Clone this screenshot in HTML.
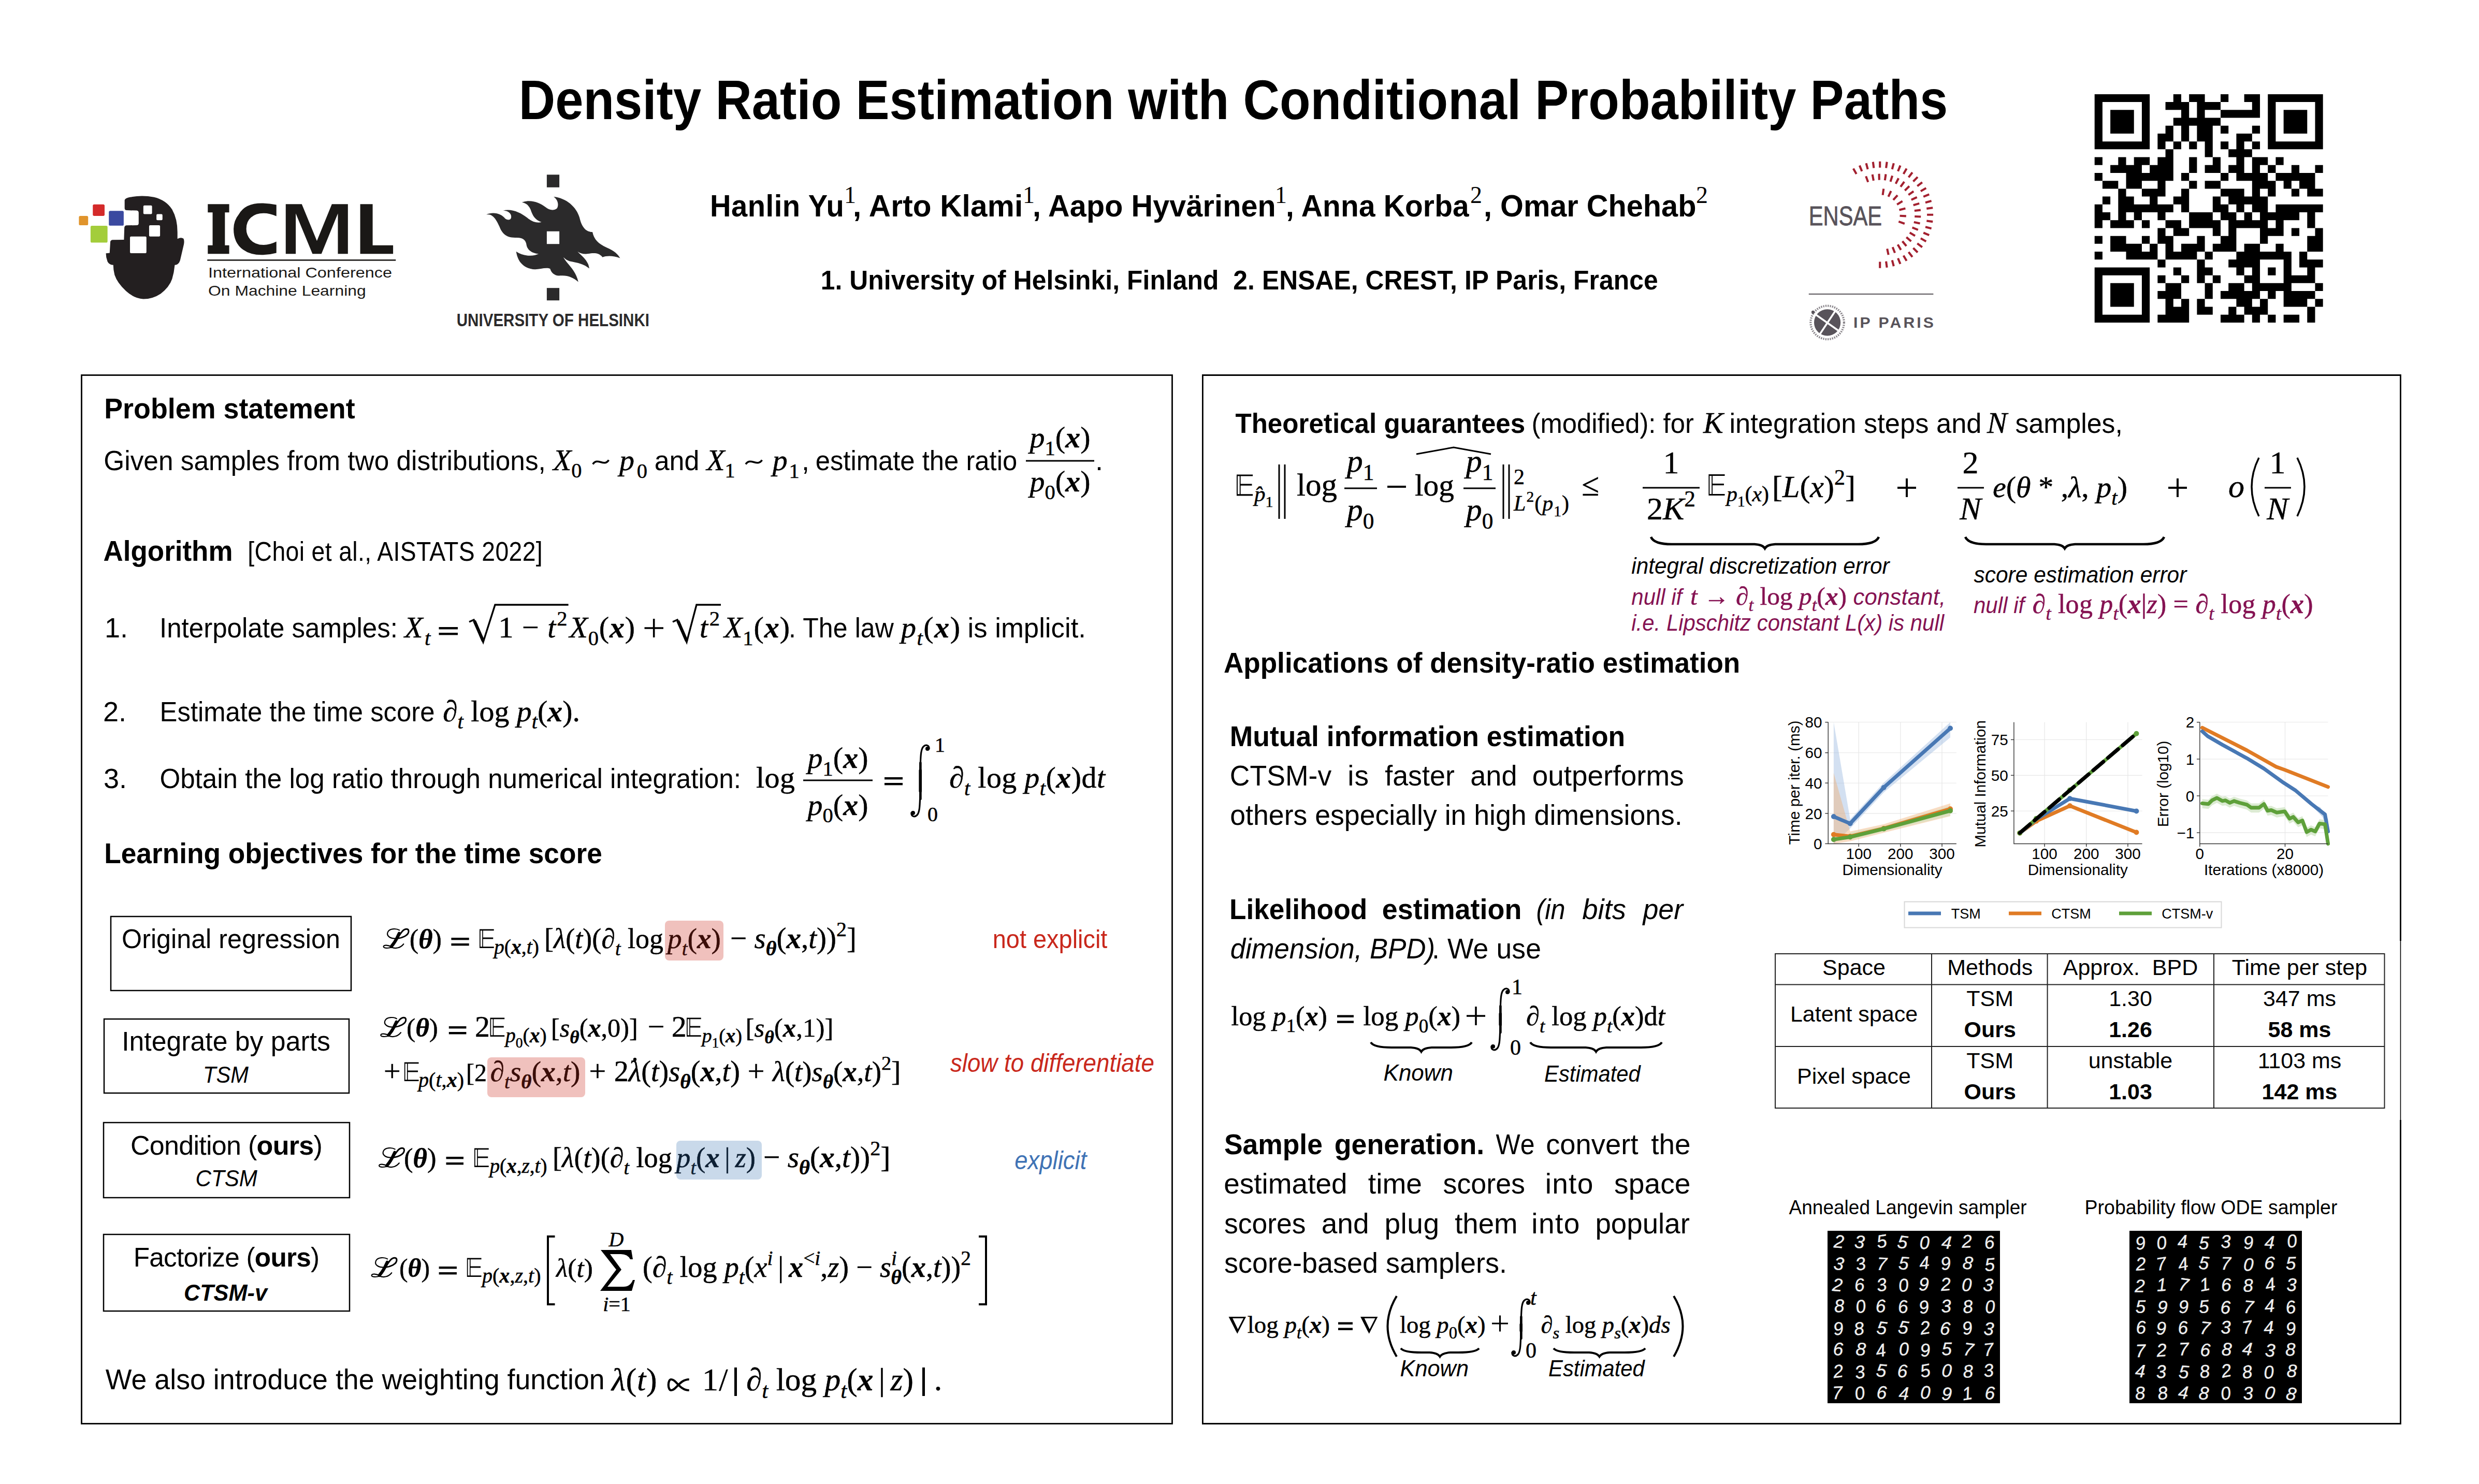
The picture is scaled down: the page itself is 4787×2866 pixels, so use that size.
<!DOCTYPE html>
<html><head><meta charset="utf-8"><style>
html,body{margin:0;padding:0;background:#fff;}
svg{display:block;}
</style></head><body>
<svg width="4787" height="2866" viewBox="0 0 4787 2866">
<rect width="4787" height="2866" fill="#fff"/>
<text x="0" y="0" transform="translate(1001.8,230.0) scale(0.9109,1)" font-family="Liberation Sans" font-style="normal" font-weight="bold" font-size="107.12" fill="#000" textLength="3029.4" lengthAdjust="spacing" >Density Ratio Estimation with Conditional Probability Paths</text>
<text x="0" y="0" transform="translate(1371.0,418.0) scale(0.9470,1)" font-family="Liberation Sans" font-style="normal" font-weight="bold" font-size="59.28" fill="#000" textLength="273.4" lengthAdjust="spacing" >Hanlin Yu</text>
<text x="1630" y="392" font-family="Liberation Serif" font-size="46">1</text>
<text x="0" y="0" transform="translate(1647.0,418.0) scale(0.9866,1)" font-family="Liberation Sans" font-style="normal" font-weight="bold" font-size="59.28" fill="#000" textLength="332.7" lengthAdjust="spacing" >, Arto Klami</text>
<text x="1975" y="392" font-family="Liberation Serif" font-size="46">1</text>
<text x="0" y="0" transform="translate(1994.0,418.0) scale(0.9699,1)" font-family="Liberation Sans" font-style="normal" font-weight="bold" font-size="59.28" fill="#000" textLength="484.3" lengthAdjust="spacing" >, Aapo Hyvärinen</text>
<text x="2462" y="392" font-family="Liberation Serif" font-size="46">1</text>
<text x="0" y="0" transform="translate(2483.0,418.0) scale(0.9587,1)" font-family="Liberation Sans" font-style="normal" font-weight="bold" font-size="59.28" fill="#000" textLength="368.9" lengthAdjust="spacing" >, Anna Korba</text>
<text x="2839" y="392" font-family="Liberation Serif" font-size="46">2</text>
<text x="0" y="0" transform="translate(2865.0,418.0) scale(0.9735,1)" font-family="Liberation Sans" font-style="normal" font-weight="bold" font-size="59.28" fill="#000" textLength="421.6" lengthAdjust="spacing" >, Omar Chehab</text>
<text x="3275" y="392" font-family="Liberation Serif" font-size="46">2</text>
<text x="0" y="0" transform="translate(1584.7,559.0) scale(0.9565,1)" font-family="Liberation Sans" font-style="normal" font-weight="bold" font-size="52.00" fill="#000" textLength="1690.5" lengthAdjust="spacing" >1. University of Helsinki, Finland&#160;&#160;2. ENSAE, CREST, IP Paris, France</text>
<rect x="157.5" y="724.5" width="2106" height="2025" fill="none" stroke="#000" stroke-width="2.8"/>
<path d="M4635.5,1817 L4635.5,724.5 L2322.4,724.5 L2322.4,2749.5 L4635.5,2749.5 L4635.5,2163" fill="none" stroke="#000" stroke-width="2.8"/><path d="M4635.5,1815 L4635.5,2165" stroke="#000" stroke-width="1.6"/>
<text x="0" y="0" transform="translate(201.2,807.5) scale(0.9582,1)" font-family="Liberation Sans" font-style="normal" font-weight="bold" font-size="56.16" fill="#000" textLength="505.6" lengthAdjust="spacing" >Problem statement</text>
<text x="0" y="0" transform="translate(200.3,908.0) scale(0.9498,1)" font-family="Liberation Sans" font-style="normal" font-weight="normal" font-size="54.08" fill="#000" textLength="898.7" lengthAdjust="spacing" >Given samples from two distributions,</text>
<text x="1068.0" y="908.0" fill="#000" stroke="#000" stroke-width="0.5" textLength="55.6" lengthAdjust="spacing" ><tspan font-family="Liberation Serif" font-style="italic" font-weight="normal" font-size="57.87">X</tspan><tspan font-family="Liberation Serif" font-style="normal" font-weight="normal" font-size="40.51" dy="14.47">0</tspan></text>
<path d="M1144.8,896.5 C1154.01,882.5 1166.29,902.5 1175.5,888.5" fill="none" stroke="#000" stroke-width="3.6"/>
<text x="1196.0" y="908.0" fill="#000" stroke="#000" stroke-width="0.5" textLength="54.0" lengthAdjust="spacing" ><tspan font-family="Liberation Serif" font-style="italic" font-weight="normal" font-size="58.00">p</tspan><tspan font-family="Liberation Serif" font-style="normal" font-weight="normal" font-size="40.60" dy="14.50">0</tspan></text>
<text x="0" y="0" transform="translate(1263.7,908.0) scale(0.9618,1)" font-family="Liberation Sans" font-style="normal" font-weight="normal" font-size="54.08" fill="#000" textLength="90.2" lengthAdjust="spacing" >and</text>
<text x="1364.4" y="908.0" fill="#000" stroke="#000" stroke-width="0.5" textLength="55.1" lengthAdjust="spacing" ><tspan font-family="Liberation Serif" font-style="italic" font-weight="normal" font-size="57.35">X</tspan><tspan font-family="Liberation Serif" font-style="normal" font-weight="normal" font-size="40.14" dy="14.34">1</tspan></text>
<path d="M1440,896.5 C1449.45,882.5 1462.05,902.5 1471.5,888.5" fill="none" stroke="#000" stroke-width="3.6"/>
<text x="1491.8" y="908.0" fill="#000" stroke="#000" stroke-width="0.5" textLength="52.0" lengthAdjust="spacing" ><tspan font-family="Liberation Serif" font-style="italic" font-weight="normal" font-size="58.00">p</tspan><tspan font-family="Liberation Serif" font-style="normal" font-weight="normal" font-size="40.60" dy="14.50">1</tspan></text>
<text x="1548.0" y="908.0" font-family="Liberation Sans" font-style="normal" font-weight="normal" font-size="54.08" fill="#000" >,</text>
<text x="0" y="0" transform="translate(1574.7,908.0) scale(0.9391,1)" font-family="Liberation Sans" font-style="normal" font-weight="normal" font-size="54.08" fill="#000" textLength="414.8" lengthAdjust="spacing" >estimate the ratio</text>
<text x="2047.0" y="864.0" fill="#000" stroke="#000" stroke-width="0.5" text-anchor="middle" ><tspan font-family="Liberation Serif" font-style="italic" font-weight="normal" font-size="58.00">p</tspan><tspan font-family="Liberation Serif" font-style="normal" font-weight="normal" font-size="40.60" dy="14.50">1</tspan><tspan font-family="Liberation Serif" font-style="normal" font-weight="normal" font-size="58.00" dy="-14.50">(</tspan><tspan font-family="Liberation Serif" font-style="italic" font-weight="bold" font-size="58.00">x</tspan><tspan font-family="Liberation Serif" font-style="normal" font-weight="normal" font-size="58.00">)</tspan></text>
<rect x="1981" y="888.5" width="132" height="3"/>
<text x="2047.0" y="949.0" fill="#000" stroke="#000" stroke-width="0.5" text-anchor="middle" ><tspan font-family="Liberation Serif" font-style="italic" font-weight="normal" font-size="58.00">p</tspan><tspan font-family="Liberation Serif" font-style="normal" font-weight="normal" font-size="40.60" dy="14.50">0</tspan><tspan font-family="Liberation Serif" font-style="normal" font-weight="normal" font-size="58.00" dy="-14.50">(</tspan><tspan font-family="Liberation Serif" font-style="italic" font-weight="bold" font-size="58.00">x</tspan><tspan font-family="Liberation Serif" font-style="normal" font-weight="normal" font-size="58.00">)</tspan></text>
<text x="2115.0" y="908.0" font-family="Liberation Sans" font-style="normal" font-weight="normal" font-size="54.08" fill="#000" >.</text>
<text x="0" y="0" transform="translate(199.6,1083.0) scale(0.9423,1)" font-family="Liberation Sans" font-style="normal" font-weight="bold" font-size="56.16" fill="#000" textLength="265.2" lengthAdjust="spacing" >Algorithm</text>
<text x="0" y="0" transform="translate(478.3,1083.0) scale(0.8914,1)" font-family="Liberation Sans" font-style="normal" font-weight="normal" font-size="52.00" fill="#000" textLength="638.8" lengthAdjust="spacing" >[Choi et al., AISTATS 2022]</text>
<text x="202.0" y="1231.0" font-family="Liberation Sans" font-style="normal" font-weight="normal" font-size="54.08" fill="#000" >1.</text>
<text x="0" y="0" transform="translate(308.0,1231.0) scale(0.9444,1)" font-family="Liberation Sans" font-style="normal" font-weight="normal" font-size="54.08" fill="#000" textLength="487.0" lengthAdjust="spacing" >Interpolate samples:</text>
<text x="781.0" y="1231.0" fill="#000" stroke="#000" stroke-width="0.5" textLength="50.4" lengthAdjust="spacing" ><tspan font-family="Liberation Serif" font-style="italic" font-weight="normal" font-size="58.00">X</tspan><tspan font-family="Liberation Serif" font-style="italic" font-weight="normal" font-size="40.60" dy="14.50">t</tspan></text>
<rect x="847.5" y="1211" width="36.5" height="4.4" fill="#000"/><rect x="847.5" y="1222" width="36.5" height="4.4" fill="#000"/>
<path d="M906,1201 L915,1197 L933,1240 L956,1168 L1097.6,1168" fill="none" stroke="#000" stroke-width="3.4" stroke-linejoin="miter"/><path d="M916,1199 L933,1238" stroke="#000" stroke-width="6"/>
<text x="962.5" y="1231.0" fill="#000" stroke="#000" stroke-width="0.5" textLength="133.1" lengthAdjust="spacing" ><tspan font-family="Liberation Serif" font-style="normal" font-weight="normal" font-size="58.00">1</tspan><tspan font-family="Liberation Serif" font-style="normal" font-weight="normal" font-size="58.00" dx="14.50">−</tspan><tspan font-family="Liberation Serif" font-style="italic" font-weight="normal" font-size="58.00" dx="14.50">t</tspan><tspan font-family="Liberation Serif" font-style="normal" font-weight="normal" font-size="40.60" dy="-23.20">2</tspan></text>
<text x="1099.6" y="1231.0" fill="#000" stroke="#000" stroke-width="0.5" textLength="126.4" lengthAdjust="spacing" ><tspan font-family="Liberation Serif" font-style="italic" font-weight="normal" font-size="58.00">X</tspan><tspan font-family="Liberation Serif" font-style="normal" font-weight="normal" font-size="40.60" dy="14.50">0</tspan><tspan font-family="Liberation Serif" font-style="normal" font-weight="normal" font-size="58.00" dy="-14.50">(</tspan><tspan font-family="Liberation Serif" font-style="italic" font-weight="bold" font-size="58.00">x</tspan><tspan font-family="Liberation Serif" font-style="normal" font-weight="normal" font-size="58.00">)</tspan></text>
<path d="M1244.5,1213 L1281,1213 M1262.7,1195 L1262.7,1231" stroke="#000" stroke-width="3.6"/>
<path d="M1299,1201 L1308,1197 L1326,1240 L1345,1168 L1392,1168" fill="none" stroke="#000" stroke-width="3.4"/><path d="M1309,1199 L1326,1238" stroke="#000" stroke-width="6"/>
<text x="1351.0" y="1231.0" fill="#000" stroke="#000" stroke-width="0.5" textLength="39.0" lengthAdjust="spacing" ><tspan font-family="Liberation Serif" font-style="italic" font-weight="normal" font-size="58.00">t</tspan><tspan font-family="Liberation Serif" font-style="normal" font-weight="normal" font-size="40.60" dy="-23.20">2</tspan></text>
<text x="1398.0" y="1231.0" fill="#000" stroke="#000" stroke-width="0.5" textLength="127.0" lengthAdjust="spacing" ><tspan font-family="Liberation Serif" font-style="italic" font-weight="normal" font-size="58.00">X</tspan><tspan font-family="Liberation Serif" font-style="normal" font-weight="normal" font-size="40.60" dy="14.50">1</tspan><tspan font-family="Liberation Serif" font-style="normal" font-weight="normal" font-size="58.00" dy="-14.50">(</tspan><tspan font-family="Liberation Serif" font-style="italic" font-weight="bold" font-size="58.00">x</tspan><tspan font-family="Liberation Serif" font-style="normal" font-weight="normal" font-size="58.00">)</tspan></text>
<text x="0" y="0" transform="translate(1523.1,1231.0) scale(0.9243,1)" font-family="Liberation Sans" font-style="normal" font-weight="normal" font-size="54.08" fill="#000" textLength="219.4" lengthAdjust="spacing" >. The law</text>
<text x="1740.0" y="1231.0" fill="#000" stroke="#000" stroke-width="0.5" textLength="114.0" lengthAdjust="spacing" ><tspan font-family="Liberation Serif" font-style="italic" font-weight="normal" font-size="58.00">p</tspan><tspan font-family="Liberation Serif" font-style="italic" font-weight="normal" font-size="40.60" dy="14.50">t</tspan><tspan font-family="Liberation Serif" font-style="normal" font-weight="normal" font-size="58.00" dy="-14.50">(</tspan><tspan font-family="Liberation Serif" font-style="italic" font-weight="bold" font-size="58.00">x</tspan><tspan font-family="Liberation Serif" font-style="normal" font-weight="normal" font-size="58.00">)</tspan></text>
<text x="0" y="0" transform="translate(1868.4,1231.0) scale(0.9753,1)" font-family="Liberation Sans" font-style="normal" font-weight="normal" font-size="54.08" fill="#000" textLength="234.4" lengthAdjust="spacing" >is implicit.</text>
<text x="199.0" y="1393.0" font-family="Liberation Sans" font-style="normal" font-weight="normal" font-size="54.08" fill="#000" >2.</text>
<text x="0" y="0" transform="translate(308.6,1393.0) scale(0.9395,1)" font-family="Liberation Sans" font-style="normal" font-weight="normal" font-size="54.08" fill="#000" textLength="565.0" lengthAdjust="spacing" >Estimate the time score</text>
<text x="855.0" y="1393.0" fill="#000" stroke="#000" stroke-width="0.5" textLength="265.0" lengthAdjust="spacing" ><tspan font-family="Liberation Serif" font-style="italic" font-weight="normal" font-size="57.90">∂</tspan><tspan font-family="Liberation Serif" font-style="italic" font-weight="normal" font-size="40.53" dy="14.47">t</tspan><tspan font-family="Liberation Serif" font-style="normal" font-weight="normal" font-size="57.90" dy="-14.47" dx="14.47">log</tspan><tspan font-family="Liberation Serif" font-style="italic" font-weight="normal" font-size="57.90" dx="14.47">p</tspan><tspan font-family="Liberation Serif" font-style="italic" font-weight="normal" font-size="40.53" dy="14.47">t</tspan><tspan font-family="Liberation Serif" font-style="normal" font-weight="normal" font-size="57.90" dy="-14.47">(</tspan><tspan font-family="Liberation Serif" font-style="italic" font-weight="bold" font-size="57.90">x</tspan><tspan font-family="Liberation Serif" font-style="normal" font-weight="normal" font-size="57.90">)</tspan><tspan font-family="Liberation Serif" font-style="normal" font-weight="normal" font-size="57.90">.</tspan></text>
<text x="200.0" y="1522.0" font-family="Liberation Sans" font-style="normal" font-weight="normal" font-size="54.08" fill="#000" >3.</text>
<text x="0" y="0" transform="translate(308.4,1522.0) scale(0.9453,1)" font-family="Liberation Sans" font-style="normal" font-weight="normal" font-size="54.08" fill="#000" textLength="1187.5" lengthAdjust="spacing" >Obtain the log ratio through numerical integration:</text>
<text x="1460.0" y="1521.0" fill="#000" stroke="#000" stroke-width="0.5" textLength="75.0" lengthAdjust="spacing" ><tspan font-family="Liberation Serif" font-style="normal" font-weight="normal" font-size="58.00">log</tspan></text>
<text x="1618.0" y="1483.0" fill="#000" stroke="#000" stroke-width="0.5" text-anchor="middle" ><tspan font-family="Liberation Serif" font-style="italic" font-weight="normal" font-size="58.00">p</tspan><tspan font-family="Liberation Serif" font-style="normal" font-weight="normal" font-size="40.60" dy="14.50">1</tspan><tspan font-family="Liberation Serif" font-style="normal" font-weight="normal" font-size="58.00" dy="-14.50">(</tspan><tspan font-family="Liberation Serif" font-style="italic" font-weight="bold" font-size="58.00">x</tspan><tspan font-family="Liberation Serif" font-style="normal" font-weight="normal" font-size="58.00">)</tspan></text>
<rect x="1551" y="1505.5" width="134" height="3"/>
<text x="1618.0" y="1573.5" fill="#000" stroke="#000" stroke-width="0.5" text-anchor="middle" ><tspan font-family="Liberation Serif" font-style="italic" font-weight="normal" font-size="58.00">p</tspan><tspan font-family="Liberation Serif" font-style="normal" font-weight="normal" font-size="40.60" dy="14.50">0</tspan><tspan font-family="Liberation Serif" font-style="normal" font-weight="normal" font-size="58.00" dy="-14.50">(</tspan><tspan font-family="Liberation Serif" font-style="italic" font-weight="bold" font-size="58.00">x</tspan><tspan font-family="Liberation Serif" font-style="normal" font-weight="normal" font-size="58.00">)</tspan></text>
<rect x="1708" y="1501" width="35" height="4.4" fill="#000"/><rect x="1708" y="1512" width="35" height="4.4" fill="#000"/>
<g><path d="M1794,1447 C1795,1439 1788,1437 1783,1442 C1777,1448 1778,1468 1777,1483 L1777,1533 C1776,1548 1777,1568 1771,1574 C1766,1579 1759,1577 1760,1569" fill="none" stroke="#000" stroke-width="3.2"/><path d="M1777.4,1473 L1777.4,1543" stroke="#000" stroke-width="4.6" stroke-linecap="round"/><path d="M1777.2,1488 L1777.2,1528" stroke="#000" stroke-width="5.6" stroke-linecap="round"/><circle cx="1791" cy="1446" r="4"/><circle cx="1763" cy="1570" r="4"/></g>
<text x="1805.0" y="1452.0" fill="#000" stroke="#000" stroke-width="0.5" ><tspan font-family="Liberation Serif" font-style="normal" font-weight="normal" font-size="40.00">1</tspan></text>
<text x="1791.0" y="1586.0" fill="#000" stroke="#000" stroke-width="0.5" ><tspan font-family="Liberation Serif" font-style="normal" font-weight="normal" font-size="40.00">0</tspan></text>
<text x="1833.0" y="1521.0" fill="#000" stroke="#000" stroke-width="0.5" textLength="301.0" lengthAdjust="spacing" ><tspan font-family="Liberation Serif" font-style="italic" font-weight="normal" font-size="58.00">∂</tspan><tspan font-family="Liberation Serif" font-style="italic" font-weight="normal" font-size="40.60" dy="14.50">t</tspan><tspan font-family="Liberation Serif" font-style="normal" font-weight="normal" font-size="58.00" dy="-14.50" dx="14.50">log</tspan><tspan font-family="Liberation Serif" font-style="italic" font-weight="normal" font-size="58.00" dx="14.50">p</tspan><tspan font-family="Liberation Serif" font-style="italic" font-weight="normal" font-size="40.60" dy="14.50">t</tspan><tspan font-family="Liberation Serif" font-style="normal" font-weight="normal" font-size="58.00" dy="-14.50">(</tspan><tspan font-family="Liberation Serif" font-style="italic" font-weight="bold" font-size="58.00">x</tspan><tspan font-family="Liberation Serif" font-style="normal" font-weight="normal" font-size="58.00">)</tspan><tspan font-family="Liberation Serif" font-style="normal" font-weight="normal" font-size="58.00">d</tspan><tspan font-family="Liberation Serif" font-style="italic" font-weight="normal" font-size="58.00">t</tspan></text>
<text x="0" y="0" transform="translate(201.2,1667.0) scale(0.9481,1)" font-family="Liberation Sans" font-style="normal" font-weight="bold" font-size="56.16" fill="#000" textLength="1014.3" lengthAdjust="spacing" >Learning objectives for the time score</text>
<rect x="214" y="1770" width="464" height="143" fill="none" stroke="#000" stroke-width="2.5"/>
<rect x="201" y="1968" width="473" height="143" fill="none" stroke="#000" stroke-width="2.5"/>
<rect x="200" y="2168" width="475" height="145" fill="none" stroke="#000" stroke-width="2.5"/>
<rect x="200" y="2384" width="475" height="148" fill="none" stroke="#000" stroke-width="2.5"/>
<text x="0" y="0" transform="translate(235.1,1831.0) scale(0.9666,1)" font-family="Liberation Sans" font-style="normal" font-weight="normal" font-size="52.00" fill="#000" textLength="436.4" lengthAdjust="spacing" >Original regression</text>
<text x="0" y="0" transform="translate(235.2,2029.0) scale(0.9951,1)" font-family="Liberation Sans" font-style="normal" font-weight="normal" font-size="52.00" fill="#000" textLength="404.7" lengthAdjust="spacing" >Integrate by parts</text>
<text x="0" y="0" transform="translate(392.1,2091.0) scale(0.9536,1)" font-family="Liberation Sans" font-style="italic" font-weight="normal" font-size="43.68" fill="#000" textLength="92.2" lengthAdjust="spacing" >TSM</text>
<text x="0" y="0" transform="translate(251.9,2230.0) scale(1.0000,1)" font-family="Liberation Sans" font-style="normal" font-weight="normal" font-size="52.00" fill="#000" textLength="370.9" lengthAdjust="spacing" >Condition (<tspan font-weight="bold">ours</tspan>)</text>
<text x="0" y="0" transform="translate(377.6,2291.0) scale(0.9650,1)" font-family="Liberation Sans" font-style="italic" font-weight="normal" font-size="43.68" fill="#000" textLength="123.7" lengthAdjust="spacing" >CTSM</text>
<text x="0" y="0" transform="translate(257.7,2446.0) scale(0.9874,1)" font-family="Liberation Sans" font-style="normal" font-weight="normal" font-size="52.00" fill="#000" textLength="364.1" lengthAdjust="spacing" >Factorize (<tspan font-weight="bold">ours</tspan>)</text>
<text x="0" y="0" transform="translate(354.9,2512.0) scale(0.9912,1)" font-family="Liberation Sans" font-style="italic" font-weight="bold" font-size="43.68" fill="#000" textLength="162.6" lengthAdjust="spacing" >CTSM-v</text>
<rect x="1284" y="1778" width="113" height="77" rx="8" fill="#f0c1bd"/>
<rect x="941" y="2042" width="189" height="77" rx="8" fill="#f0c1bd"/>
<rect x="1306" y="2203" width="165" height="75" rx="8" fill="#c9d9ea"/>
<g transform="translate(720.02,1778.37) scale(0.09747)" fill="none" stroke="#000" stroke-linecap="round"><path d="M525,185 C470,150 330,145 295,225 C265,300 340,360 485,350" stroke-width="22"/><path d="M485,350 C580,340 705,290 708,210 C712,150 640,150 595,195 C520,270 470,400 365,510" stroke-width="30"/><path d="M520,250 C490,310 470,390 365,510" stroke-width="62"/><path d="M365,510 C300,485 225,470 212,505 C200,545 300,548 370,525 C440,555 540,545 608,460" stroke-width="22"/></g>
<text x="790.8" y="1831.0" fill="#000" stroke="#000" stroke-width="0.5" textLength="62.2" lengthAdjust="spacing" ><tspan font-family="Liberation Serif" font-style="normal" font-weight="normal" font-size="52.49">(</tspan><tspan font-family="Liberation Serif" font-style="italic" font-weight="bold" font-size="52.49">θ</tspan><tspan font-family="Liberation Serif" font-style="normal" font-weight="normal" font-size="52.49">)</tspan></text>
<rect x="871.4" y="1811" width="34.30000000000007" height="4.4" fill="#000"/><rect x="871.4" y="1822" width="34.30000000000007" height="4.4" fill="#000"/>
<g transform="translate(718.68,1777.95) scale(0.09733)" fill="#000"><path d="M2130,170 L2415,170 L2415,198 L2200,198 L2200,335 L2400,335 L2400,365 L2200,365 L2200,517 L2415,517 L2415,545 L2130,545 Z M2148,198 L2148,517 L2183,517 L2183,198 Z" fill-rule="evenodd"/></g>
<text x="954.0" y="1842.0" fill="#000" stroke="#000" stroke-width="0.5" textLength="87.0" lengthAdjust="spacing" ><tspan font-family="Liberation Serif" font-style="italic" font-weight="normal" font-size="39.66">p</tspan><tspan font-family="Liberation Serif" font-style="normal" font-weight="normal" font-size="39.66">(</tspan><tspan font-family="Liberation Serif" font-style="italic" font-weight="bold" font-size="39.66">x</tspan><tspan font-family="Liberation Serif" font-style="normal" font-weight="normal" font-size="39.66">,</tspan><tspan font-family="Liberation Serif" font-style="italic" font-weight="normal" font-size="39.66">t</tspan><tspan font-family="Liberation Serif" font-style="normal" font-weight="normal" font-size="39.66">)</tspan></text>
<text x="1051.0" y="1831.0" fill="#000" stroke="#000" stroke-width="0.5" textLength="230.0" lengthAdjust="spacing" ><tspan font-family="Liberation Serif" font-style="normal" font-weight="normal" font-size="54.00">[</tspan><tspan font-family="Liberation Serif" font-style="italic" font-weight="normal" font-size="54.00">λ</tspan><tspan font-family="Liberation Serif" font-style="normal" font-weight="normal" font-size="54.00">(</tspan><tspan font-family="Liberation Serif" font-style="italic" font-weight="normal" font-size="54.00">t</tspan><tspan font-family="Liberation Serif" font-style="normal" font-weight="normal" font-size="54.00">)</tspan><tspan font-family="Liberation Serif" font-style="normal" font-weight="normal" font-size="54.00">(</tspan><tspan font-family="Liberation Serif" font-style="italic" font-weight="normal" font-size="54.00">∂</tspan><tspan font-family="Liberation Serif" font-style="italic" font-weight="normal" font-size="37.80" dy="13.50">t</tspan><tspan font-family="Liberation Serif" font-style="normal" font-weight="normal" font-size="54.00" dy="-13.50" dx="13.50">log</tspan></text>
<text x="1289.0" y="1831.0" fill="#3a0d08" stroke="#3a0d08" stroke-width="0.5" textLength="103.0" lengthAdjust="spacing" ><tspan font-family="Liberation Serif" font-style="italic" font-weight="normal" font-size="55.36">p</tspan><tspan font-family="Liberation Serif" font-style="italic" font-weight="normal" font-size="38.75" dy="13.84">t</tspan><tspan font-family="Liberation Serif" font-style="normal" font-weight="normal" font-size="55.36" dy="-13.84">(</tspan><tspan font-family="Liberation Serif" font-style="italic" font-weight="bold" font-size="55.36">x</tspan><tspan font-family="Liberation Serif" font-style="normal" font-weight="normal" font-size="55.36">)</tspan></text>
<text x="1410.0" y="1831.0" fill="#000" stroke="#000" stroke-width="0.5" textLength="244.0" lengthAdjust="spacing" ><tspan font-family="Liberation Serif" font-style="normal" font-weight="normal" font-size="57.06">−</tspan><tspan font-family="Liberation Serif" font-style="italic" font-weight="normal" font-size="57.06" dx="14.26">s</tspan><tspan font-family="Liberation Serif" font-style="italic" font-weight="bold" font-size="39.94" dy="14.26">θ</tspan><tspan font-family="Liberation Serif" font-style="normal" font-weight="normal" font-size="57.06" dy="-14.26">(</tspan><tspan font-family="Liberation Serif" font-style="italic" font-weight="bold" font-size="57.06">x</tspan><tspan font-family="Liberation Serif" font-style="normal" font-weight="normal" font-size="57.06">,</tspan><tspan font-family="Liberation Serif" font-style="italic" font-weight="normal" font-size="57.06">t</tspan><tspan font-family="Liberation Serif" font-style="normal" font-weight="normal" font-size="57.06">)</tspan><tspan font-family="Liberation Serif" font-style="normal" font-weight="normal" font-size="57.06">)</tspan><tspan font-family="Liberation Serif" font-style="normal" font-weight="normal" font-size="39.94" dy="-22.82">2</tspan><tspan font-family="Liberation Serif" font-style="normal" font-weight="normal" font-size="57.06" dy="22.82">]</tspan></text>
<text x="0" y="0" transform="translate(1916.7,1831.0) scale(0.9399,1)" font-family="Liberation Sans" font-style="normal" font-weight="normal" font-size="49.92" fill="#c9281c" textLength="235.9" lengthAdjust="spacing" >not explicit</text>
<g transform="translate(714.72,1949.37) scale(0.09747)" fill="none" stroke="#000" stroke-linecap="round"><path d="M525,185 C470,150 330,145 295,225 C265,300 340,360 485,350" stroke-width="22"/><path d="M485,350 C580,340 705,290 708,210 C712,150 640,150 595,195 C520,270 470,400 365,510" stroke-width="30"/><path d="M520,250 C490,310 470,390 365,510" stroke-width="62"/><path d="M365,510 C300,485 225,470 212,505 C200,545 300,548 370,525 C440,555 540,545 608,460" stroke-width="22"/></g>
<text x="785.0" y="2002.0" fill="#000" stroke="#000" stroke-width="0.5" textLength="61.0" lengthAdjust="spacing" ><tspan font-family="Liberation Serif" font-style="normal" font-weight="normal" font-size="51.47">(</tspan><tspan font-family="Liberation Serif" font-style="italic" font-weight="bold" font-size="51.47">θ</tspan><tspan font-family="Liberation Serif" font-style="normal" font-weight="normal" font-size="51.47">)</tspan></text>
<rect x="866.8" y="1982" width="33.60000000000002" height="4.4" fill="#000"/><rect x="866.8" y="1993" width="33.60000000000002" height="4.4" fill="#000"/>
<text x="917.0" y="2002.0" fill="#000" stroke="#000" stroke-width="0.5" ><tspan font-family="Liberation Serif" font-style="normal" font-weight="normal" font-size="58.00">2</tspan></text>
<g transform="translate(739.18,1948.95) scale(0.09733)" fill="#000"><path d="M2130,170 L2415,170 L2415,198 L2200,198 L2200,335 L2400,335 L2400,365 L2200,365 L2200,517 L2415,517 L2415,545 L2130,545 Z M2148,198 L2148,517 L2183,517 L2183,198 Z" fill-rule="evenodd"/></g>
<text x="976.0" y="2013.0" fill="#000" stroke="#000" stroke-width="0.5" textLength="79.6" lengthAdjust="spacing" ><tspan font-family="Liberation Serif" font-style="italic" font-weight="normal" font-size="39.48">p</tspan><tspan font-family="Liberation Serif" font-style="normal" font-weight="normal" font-size="27.64" dy="9.87">0</tspan><tspan font-family="Liberation Serif" font-style="normal" font-weight="normal" font-size="39.48" dy="-9.87">(</tspan><tspan font-family="Liberation Serif" font-style="italic" font-weight="bold" font-size="39.48">x</tspan><tspan font-family="Liberation Serif" font-style="normal" font-weight="normal" font-size="39.48">)</tspan></text>
<text x="1064.0" y="2002.0" fill="#000" stroke="#000" stroke-width="0.5" textLength="167.8" lengthAdjust="spacing" ><tspan font-family="Liberation Serif" font-style="normal" font-weight="normal" font-size="50.32">[</tspan><tspan font-family="Liberation Serif" font-style="italic" font-weight="normal" font-size="50.32">s</tspan><tspan font-family="Liberation Serif" font-style="italic" font-weight="bold" font-size="35.23" dy="12.58">θ</tspan><tspan font-family="Liberation Serif" font-style="normal" font-weight="normal" font-size="50.32" dy="-12.58">(</tspan><tspan font-family="Liberation Serif" font-style="italic" font-weight="bold" font-size="50.32">x</tspan><tspan font-family="Liberation Serif" font-style="normal" font-weight="normal" font-size="50.32">,</tspan><tspan font-family="Liberation Serif" font-style="normal" font-weight="normal" font-size="50.32">0</tspan><tspan font-family="Liberation Serif" font-style="normal" font-weight="normal" font-size="50.32">)</tspan><tspan font-family="Liberation Serif" font-style="normal" font-weight="normal" font-size="50.32">]</tspan></text>
<text x="1250.7" y="2002.0" fill="#000" stroke="#000" stroke-width="0.5" ><tspan font-family="Liberation Serif" font-style="normal" font-weight="normal" font-size="58.00">−</tspan></text>
<text x="1296.8" y="2002.0" fill="#000" stroke="#000" stroke-width="0.5" ><tspan font-family="Liberation Serif" font-style="normal" font-weight="normal" font-size="58.00">2</tspan></text>
<g transform="translate(1118.68,1948.95) scale(0.09733)" fill="#000"><path d="M2130,170 L2415,170 L2415,198 L2200,198 L2200,335 L2400,335 L2400,365 L2200,365 L2200,517 L2415,517 L2415,545 L2130,545 Z M2148,198 L2148,517 L2183,517 L2183,198 Z" fill-rule="evenodd"/></g>
<text x="1355.6" y="2013.0" fill="#000" stroke="#000" stroke-width="0.5" textLength="77.4" lengthAdjust="spacing" ><tspan font-family="Liberation Serif" font-style="italic" font-weight="normal" font-size="38.39">p</tspan><tspan font-family="Liberation Serif" font-style="normal" font-weight="normal" font-size="26.87" dy="9.60">1</tspan><tspan font-family="Liberation Serif" font-style="normal" font-weight="normal" font-size="38.39" dy="-9.60">(</tspan><tspan font-family="Liberation Serif" font-style="italic" font-weight="bold" font-size="38.39">x</tspan><tspan font-family="Liberation Serif" font-style="normal" font-weight="normal" font-size="38.39">)</tspan></text>
<text x="1439.5" y="2002.0" fill="#000" stroke="#000" stroke-width="0.5" textLength="169.9" lengthAdjust="spacing" ><tspan font-family="Liberation Serif" font-style="normal" font-weight="normal" font-size="50.95">[</tspan><tspan font-family="Liberation Serif" font-style="italic" font-weight="normal" font-size="50.95">s</tspan><tspan font-family="Liberation Serif" font-style="italic" font-weight="bold" font-size="35.67" dy="12.74">θ</tspan><tspan font-family="Liberation Serif" font-style="normal" font-weight="normal" font-size="50.95" dy="-12.74">(</tspan><tspan font-family="Liberation Serif" font-style="italic" font-weight="bold" font-size="50.95">x</tspan><tspan font-family="Liberation Serif" font-style="normal" font-weight="normal" font-size="50.95">,</tspan><tspan font-family="Liberation Serif" font-style="normal" font-weight="normal" font-size="50.95">1</tspan><tspan font-family="Liberation Serif" font-style="normal" font-weight="normal" font-size="50.95">)</tspan><tspan font-family="Liberation Serif" font-style="normal" font-weight="normal" font-size="50.95">]</tspan></text>
<text x="741.0" y="2088.0" fill="#000" stroke="#000" stroke-width="0.5" ><tspan font-family="Liberation Serif" font-style="normal" font-weight="normal" font-size="58.00">+</tspan></text>
<g transform="translate(573.48,2034.95) scale(0.09733)" fill="#000"><path d="M2130,170 L2415,170 L2415,198 L2200,198 L2200,335 L2400,335 L2400,365 L2200,365 L2200,517 L2415,517 L2415,545 L2130,545 Z M2148,198 L2148,517 L2183,517 L2183,198 Z" fill-rule="evenodd"/></g>
<text x="808.0" y="2099.0" fill="#000" stroke="#000" stroke-width="0.5" textLength="88.0" lengthAdjust="spacing" ><tspan font-family="Liberation Serif" font-style="italic" font-weight="normal" font-size="40.00">p</tspan><tspan font-family="Liberation Serif" font-style="normal" font-weight="normal" font-size="40.00">(</tspan><tspan font-family="Liberation Serif" font-style="italic" font-weight="normal" font-size="40.00">t</tspan><tspan font-family="Liberation Serif" font-style="normal" font-weight="normal" font-size="40.00">,</tspan><tspan font-family="Liberation Serif" font-style="italic" font-weight="bold" font-size="40.00">x</tspan><tspan font-family="Liberation Serif" font-style="normal" font-weight="normal" font-size="40.00">)</tspan></text>
<text x="900.0" y="2088.0" fill="#000" stroke="#000" stroke-width="0.5" textLength="40.0" lengthAdjust="spacing" ><tspan font-family="Liberation Serif" font-style="normal" font-weight="normal" font-size="48.02">[</tspan><tspan font-family="Liberation Serif" font-style="normal" font-weight="normal" font-size="48.02">2</tspan></text>
<text x="946.5" y="2088.0" fill="#3a0d08" stroke="#3a0d08" stroke-width="0.5" textLength="174.1" lengthAdjust="spacing" ><tspan font-family="Liberation Serif" font-style="italic" font-weight="normal" font-size="55.53">∂</tspan><tspan font-family="Liberation Serif" font-style="italic" font-weight="normal" font-size="38.87" dy="13.88">t</tspan><tspan font-family="Liberation Serif" font-style="italic" font-weight="normal" font-size="55.53" dy="-13.88">s</tspan><tspan font-family="Liberation Serif" font-style="italic" font-weight="bold" font-size="38.87" dy="13.88">θ</tspan><tspan font-family="Liberation Serif" font-style="normal" font-weight="normal" font-size="55.53" dy="-13.88">(</tspan><tspan font-family="Liberation Serif" font-style="italic" font-weight="bold" font-size="55.53">x</tspan><tspan font-family="Liberation Serif" font-style="normal" font-weight="normal" font-size="55.53">,</tspan><tspan font-family="Liberation Serif" font-style="italic" font-weight="normal" font-size="55.53">t</tspan><tspan font-family="Liberation Serif" font-style="normal" font-weight="normal" font-size="55.53">)</tspan></text>
<text x="1137.4" y="2088.0" fill="#000" stroke="#000" stroke-width="0.5" ><tspan font-family="Liberation Serif" font-style="normal" font-weight="normal" font-size="58.00">+</tspan></text>
<text x="1185.7" y="2088.0" fill="#000" stroke="#000" stroke-width="0.5" textLength="243.3" lengthAdjust="spacing" ><tspan font-family="Liberation Serif" font-style="normal" font-weight="normal" font-size="56.28">2</tspan><tspan font-family="Liberation Serif" font-style="italic" font-weight="normal" font-size="56.28">λ</tspan><tspan font-family="Liberation Serif" font-style="normal" font-weight="normal" font-size="56.28">(</tspan><tspan font-family="Liberation Serif" font-style="italic" font-weight="normal" font-size="56.28">t</tspan><tspan font-family="Liberation Serif" font-style="normal" font-weight="normal" font-size="56.28">)</tspan><tspan font-family="Liberation Serif" font-style="italic" font-weight="normal" font-size="56.28">s</tspan><tspan font-family="Liberation Serif" font-style="italic" font-weight="bold" font-size="39.39" dy="14.07">θ</tspan><tspan font-family="Liberation Serif" font-style="normal" font-weight="normal" font-size="56.28" dy="-14.07">(</tspan><tspan font-family="Liberation Serif" font-style="italic" font-weight="bold" font-size="56.28">x</tspan><tspan font-family="Liberation Serif" font-style="normal" font-weight="normal" font-size="56.28">,</tspan><tspan font-family="Liberation Serif" font-style="italic" font-weight="normal" font-size="56.28">t</tspan><tspan font-family="Liberation Serif" font-style="normal" font-weight="normal" font-size="56.28">)</tspan></text>
<circle cx="1226" cy="2046" r="3.2"/>
<text x="1443.7" y="2088.0" fill="#000" stroke="#000" stroke-width="0.5" ><tspan font-family="Liberation Serif" font-style="normal" font-weight="normal" font-size="58.00">+</tspan></text>
<text x="1492.0" y="2088.0" fill="#000" stroke="#000" stroke-width="0.5" textLength="247.4" lengthAdjust="spacing" ><tspan font-family="Liberation Serif" font-style="italic" font-weight="normal" font-size="54.90">λ</tspan><tspan font-family="Liberation Serif" font-style="normal" font-weight="normal" font-size="54.90">(</tspan><tspan font-family="Liberation Serif" font-style="italic" font-weight="normal" font-size="54.90">t</tspan><tspan font-family="Liberation Serif" font-style="normal" font-weight="normal" font-size="54.90">)</tspan><tspan font-family="Liberation Serif" font-style="italic" font-weight="normal" font-size="54.90">s</tspan><tspan font-family="Liberation Serif" font-style="italic" font-weight="bold" font-size="38.43" dy="13.73">θ</tspan><tspan font-family="Liberation Serif" font-style="normal" font-weight="normal" font-size="54.90" dy="-13.73">(</tspan><tspan font-family="Liberation Serif" font-style="italic" font-weight="bold" font-size="54.90">x</tspan><tspan font-family="Liberation Serif" font-style="normal" font-weight="normal" font-size="54.90">,</tspan><tspan font-family="Liberation Serif" font-style="italic" font-weight="normal" font-size="54.90">t</tspan><tspan font-family="Liberation Serif" font-style="normal" font-weight="normal" font-size="54.90">)</tspan><tspan font-family="Liberation Serif" font-style="normal" font-weight="normal" font-size="38.43" dy="-21.96">2</tspan><tspan font-family="Liberation Serif" font-style="normal" font-weight="normal" font-size="54.90" dy="21.96">]</tspan></text>
<text x="0" y="0" transform="translate(1834.9,2070.0) scale(0.9160,1)" font-family="Liberation Sans" font-style="italic" font-weight="normal" font-size="49.92" fill="#c9281c" textLength="430.1" lengthAdjust="spacing" >slow to differentiate</text>
<g transform="translate(711.52,2201.37) scale(0.09747)" fill="none" stroke="#000" stroke-linecap="round"><path d="M525,185 C470,150 330,145 295,225 C265,300 340,360 485,350" stroke-width="22"/><path d="M485,350 C580,340 705,290 708,210 C712,150 640,150 595,195 C520,270 470,400 365,510" stroke-width="30"/><path d="M520,250 C490,310 470,390 365,510" stroke-width="62"/><path d="M365,510 C300,485 225,470 212,505 C200,545 300,548 370,525 C440,555 540,545 608,460" stroke-width="22"/></g>
<text x="780.0" y="2254.0" fill="#000" stroke="#000" stroke-width="0.5" textLength="62.6" lengthAdjust="spacing" ><tspan font-family="Liberation Serif" font-style="normal" font-weight="normal" font-size="52.82">(</tspan><tspan font-family="Liberation Serif" font-style="italic" font-weight="bold" font-size="52.82">θ</tspan><tspan font-family="Liberation Serif" font-style="normal" font-weight="normal" font-size="52.82">)</tspan></text>
<rect x="861.5" y="2234" width="33.5" height="4.4" fill="#000"/><rect x="861.5" y="2245" width="33.5" height="4.4" fill="#000"/>
<g transform="translate(708.68,2200.95) scale(0.09733)" fill="#000"><path d="M2130,170 L2415,170 L2415,198 L2200,198 L2200,335 L2400,335 L2400,365 L2200,365 L2200,517 L2415,517 L2415,545 L2130,545 Z M2148,198 L2148,517 L2183,517 L2183,198 Z" fill-rule="evenodd"/></g>
<text x="945.4" y="2265.0" fill="#000" stroke="#000" stroke-width="0.5" textLength="111.2" lengthAdjust="spacing" ><tspan font-family="Liberation Serif" font-style="italic" font-weight="normal" font-size="39.25">p</tspan><tspan font-family="Liberation Serif" font-style="normal" font-weight="normal" font-size="39.25">(</tspan><tspan font-family="Liberation Serif" font-style="italic" font-weight="bold" font-size="39.25">x</tspan><tspan font-family="Liberation Serif" font-style="normal" font-weight="normal" font-size="39.25">,</tspan><tspan font-family="Liberation Serif" font-style="italic" font-weight="normal" font-size="39.25">z</tspan><tspan font-family="Liberation Serif" font-style="normal" font-weight="normal" font-size="39.25">,</tspan><tspan font-family="Liberation Serif" font-style="italic" font-weight="normal" font-size="39.25">t</tspan><tspan font-family="Liberation Serif" font-style="normal" font-weight="normal" font-size="39.25">)</tspan></text>
<text x="1067.0" y="2254.0" fill="#000" stroke="#000" stroke-width="0.5" textLength="230.8" lengthAdjust="spacing" ><tspan font-family="Liberation Serif" font-style="normal" font-weight="normal" font-size="54.19">[</tspan><tspan font-family="Liberation Serif" font-style="italic" font-weight="normal" font-size="54.19">λ</tspan><tspan font-family="Liberation Serif" font-style="normal" font-weight="normal" font-size="54.19">(</tspan><tspan font-family="Liberation Serif" font-style="italic" font-weight="normal" font-size="54.19">t</tspan><tspan font-family="Liberation Serif" font-style="normal" font-weight="normal" font-size="54.19">)</tspan><tspan font-family="Liberation Serif" font-style="normal" font-weight="normal" font-size="54.19">(</tspan><tspan font-family="Liberation Serif" font-style="italic" font-weight="normal" font-size="54.19">∂</tspan><tspan font-family="Liberation Serif" font-style="italic" font-weight="normal" font-size="37.93" dy="13.55">t</tspan><tspan font-family="Liberation Serif" font-style="normal" font-weight="normal" font-size="54.19" dy="-13.55" dx="13.55">log</tspan></text>
<text x="1306.0" y="2254.0" fill="#0d1f33" stroke="#0d1f33" stroke-width="0.5" textLength="153.0" lengthAdjust="spacing" ><tspan font-family="Liberation Serif" font-style="italic" font-weight="normal" font-size="54.84">p</tspan><tspan font-family="Liberation Serif" font-style="italic" font-weight="normal" font-size="38.39" dy="13.71">t</tspan><tspan font-family="Liberation Serif" font-style="normal" font-weight="normal" font-size="54.84" dy="-13.71">(</tspan><tspan font-family="Liberation Serif" font-style="italic" font-weight="bold" font-size="54.84">x</tspan><tspan font-family="Liberation Serif" font-style="normal" font-weight="normal" font-size="54.84" dx="9.32">|</tspan><tspan font-family="Liberation Serif" font-style="italic" font-weight="normal" font-size="54.84" dx="9.32">z</tspan><tspan font-family="Liberation Serif" font-style="normal" font-weight="normal" font-size="54.84">)</tspan></text>
<text x="1474.0" y="2254.0" fill="#000" stroke="#000" stroke-width="0.5" textLength="245.4" lengthAdjust="spacing" ><tspan font-family="Liberation Serif" font-style="normal" font-weight="normal" font-size="57.39">−</tspan><tspan font-family="Liberation Serif" font-style="italic" font-weight="normal" font-size="57.39" dx="14.35">s</tspan><tspan font-family="Liberation Serif" font-style="italic" font-weight="bold" font-size="40.17" dy="14.35">θ</tspan><tspan font-family="Liberation Serif" font-style="normal" font-weight="normal" font-size="57.39" dy="-14.35">(</tspan><tspan font-family="Liberation Serif" font-style="italic" font-weight="bold" font-size="57.39">x</tspan><tspan font-family="Liberation Serif" font-style="normal" font-weight="normal" font-size="57.39">,</tspan><tspan font-family="Liberation Serif" font-style="italic" font-weight="normal" font-size="57.39">t</tspan><tspan font-family="Liberation Serif" font-style="normal" font-weight="normal" font-size="57.39">)</tspan><tspan font-family="Liberation Serif" font-style="normal" font-weight="normal" font-size="57.39">)</tspan><tspan font-family="Liberation Serif" font-style="normal" font-weight="normal" font-size="40.17" dy="-22.95">2</tspan><tspan font-family="Liberation Serif" font-style="normal" font-weight="normal" font-size="57.39" dy="22.95">]</tspan></text>
<text x="0" y="0" transform="translate(1959.3,2258.0) scale(0.9106,1)" font-family="Liberation Sans" font-style="italic" font-weight="normal" font-size="49.92" fill="#3f73b5" textLength="152.6" lengthAdjust="spacing" >explicit</text>
<g transform="translate(697.02,2413.37) scale(0.09747)" fill="none" stroke="#000" stroke-linecap="round"><path d="M525,185 C470,150 330,145 295,225 C265,300 340,360 485,350" stroke-width="22"/><path d="M485,350 C580,340 705,290 708,210 C712,150 640,150 595,195 C520,270 470,400 365,510" stroke-width="30"/><path d="M520,250 C490,310 470,390 365,510" stroke-width="62"/><path d="M365,510 C300,485 225,470 212,505 C200,545 300,548 370,525 C440,555 540,545 608,460" stroke-width="22"/></g>
<text x="771.0" y="2466.0" fill="#000" stroke="#000" stroke-width="0.5" textLength="59.0" lengthAdjust="spacing" ><tspan font-family="Liberation Serif" font-style="normal" font-weight="normal" font-size="49.79">(</tspan><tspan font-family="Liberation Serif" font-style="italic" font-weight="bold" font-size="49.79">θ</tspan><tspan font-family="Liberation Serif" font-style="normal" font-weight="normal" font-size="49.79">)</tspan></text>
<rect x="847.6" y="2446" width="34.39999999999998" height="4.4" fill="#000"/><rect x="847.6" y="2457" width="34.39999999999998" height="4.4" fill="#000"/>
<g transform="translate(694.48,2412.95) scale(0.09733)" fill="#000"><path d="M2130,170 L2415,170 L2415,198 L2200,198 L2200,335 L2400,335 L2400,365 L2200,365 L2200,517 L2415,517 L2415,545 L2130,545 Z M2148,198 L2148,517 L2183,517 L2183,198 Z" fill-rule="evenodd"/></g>
<text x="931.0" y="2477.0" fill="#000" stroke="#000" stroke-width="0.5" textLength="113.5" lengthAdjust="spacing" ><tspan font-family="Liberation Serif" font-style="italic" font-weight="normal" font-size="40.00">p</tspan><tspan font-family="Liberation Serif" font-style="normal" font-weight="normal" font-size="40.00">(</tspan><tspan font-family="Liberation Serif" font-style="italic" font-weight="bold" font-size="40.00">x</tspan><tspan font-family="Liberation Serif" font-style="normal" font-weight="normal" font-size="40.00">,</tspan><tspan font-family="Liberation Serif" font-style="italic" font-weight="normal" font-size="40.00">z</tspan><tspan font-family="Liberation Serif" font-style="normal" font-weight="normal" font-size="40.00">,</tspan><tspan font-family="Liberation Serif" font-style="italic" font-weight="normal" font-size="40.00">t</tspan><tspan font-family="Liberation Serif" font-style="normal" font-weight="normal" font-size="40.00">)</tspan></text>
<path d="M1071.5,2388 L1058,2388 L1058,2519 L1071.5,2519" fill="none" stroke="#000" stroke-width="4"/>
<text x="1074.0" y="2466.0" fill="#000" stroke="#000" stroke-width="0.5" textLength="71.0" lengthAdjust="spacing" ><tspan font-family="Liberation Serif" font-style="italic" font-weight="normal" font-size="51.56">λ</tspan><tspan font-family="Liberation Serif" font-style="normal" font-weight="normal" font-size="51.56">(</tspan><tspan font-family="Liberation Serif" font-style="italic" font-weight="normal" font-size="51.56">t</tspan><tspan font-family="Liberation Serif" font-style="normal" font-weight="normal" font-size="51.56">)</tspan></text>
<path d="M1160,2414 L1219,2414 L1222,2432 L1217,2432 Q1212,2422 1199,2422 L1178,2422 L1200,2452 L1173,2485 L1204,2485 Q1217,2485 1222,2472 L1226,2472 L1220,2493 L1159,2493 L1190,2452 Z" />
<text x="1190.0" y="2407.0" fill="#000" stroke="#000" stroke-width="0.5" text-anchor="middle" ><tspan font-family="Liberation Serif" font-style="italic" font-weight="normal" font-size="40.00">D</tspan></text>
<text x="1191.0" y="2532.0" fill="#000" stroke="#000" stroke-width="0.5" text-anchor="middle" ><tspan font-family="Liberation Serif" font-style="italic" font-weight="normal" font-size="40.00">i</tspan><tspan font-family="Liberation Serif" font-style="normal" font-weight="normal" font-size="40.00">=</tspan><tspan font-family="Liberation Serif" font-style="normal" font-weight="normal" font-size="40.00">1</tspan></text>
<text x="1241.0" y="2466.0" fill="#000" stroke="#000" stroke-width="0.5" textLength="634.0" lengthAdjust="spacing" ><tspan font-family="Liberation Serif" font-style="normal" font-weight="normal" font-size="56.33">(</tspan><tspan font-family="Liberation Serif" font-style="italic" font-weight="normal" font-size="56.33">∂</tspan><tspan font-family="Liberation Serif" font-style="italic" font-weight="normal" font-size="39.43" dy="14.08">t</tspan><tspan font-family="Liberation Serif" font-style="normal" font-weight="normal" font-size="56.33" dy="-14.08" dx="14.08">log</tspan><tspan font-family="Liberation Serif" font-style="italic" font-weight="normal" font-size="56.33" dx="14.08">p</tspan><tspan font-family="Liberation Serif" font-style="italic" font-weight="normal" font-size="39.43" dy="14.08">t</tspan><tspan font-family="Liberation Serif" font-style="normal" font-weight="normal" font-size="56.33" dy="-14.08">(</tspan><tspan font-family="Liberation Serif" font-style="italic" font-weight="normal" font-size="56.33">x</tspan><tspan font-family="Liberation Serif" font-style="italic" font-weight="normal" font-size="39.43" dy="-22.53">i</tspan><tspan font-family="Liberation Serif" font-style="normal" font-weight="normal" font-size="56.33" dy="22.53" dx="9.58">|</tspan><tspan font-family="Liberation Serif" font-style="italic" font-weight="bold" font-size="56.33" dx="9.58">x</tspan><tspan font-family="Liberation Serif" font-style="normal" font-weight="normal" font-size="39.43" dy="-22.53">&lt;</tspan><tspan font-family="Liberation Serif" font-style="italic" font-weight="normal" font-size="39.43">i</tspan><tspan font-family="Liberation Serif" font-style="normal" font-weight="normal" font-size="56.33" dy="22.53">,</tspan><tspan font-family="Liberation Serif" font-style="italic" font-weight="normal" font-size="56.33">z</tspan><tspan font-family="Liberation Serif" font-style="normal" font-weight="normal" font-size="56.33">)</tspan><tspan font-family="Liberation Serif" font-style="normal" font-weight="normal" font-size="56.33" dx="14.08">−</tspan><tspan font-family="Liberation Serif" font-style="italic" font-weight="normal" font-size="56.33" dx="14.08">s</tspan><tspan font-family="Liberation Serif" font-style="italic" font-weight="normal" font-size="39.43" dy="-22.53">i</tspan><tspan font-family="Liberation Serif" font-style="italic" font-weight="bold" font-size="39.43" dy="36.62" dx="-11.27">θ</tspan><tspan font-family="Liberation Serif" font-style="normal" font-weight="normal" font-size="56.33" dy="-14.08">(</tspan><tspan font-family="Liberation Serif" font-style="italic" font-weight="bold" font-size="56.33">x</tspan><tspan font-family="Liberation Serif" font-style="normal" font-weight="normal" font-size="56.33">,</tspan><tspan font-family="Liberation Serif" font-style="italic" font-weight="normal" font-size="56.33">t</tspan><tspan font-family="Liberation Serif" font-style="normal" font-weight="normal" font-size="56.33">)</tspan><tspan font-family="Liberation Serif" font-style="normal" font-weight="normal" font-size="56.33">)</tspan><tspan font-family="Liberation Serif" font-style="normal" font-weight="normal" font-size="39.43" dy="-22.53">2</tspan></text>
<path d="M1890,2388 L1904,2388 L1904,2519 L1890,2519" fill="none" stroke="#000" stroke-width="4"/>
<text x="0" y="0" transform="translate(203.8,2683.0) scale(0.9559,1)" font-family="Liberation Sans" font-style="normal" font-weight="normal" font-size="56.16" fill="#000" textLength="1008.4" lengthAdjust="spacing" >We also introduce the weighting function</text>
<text x="1181.0" y="2685.0" fill="#000" stroke="#000" stroke-width="0.5" textLength="87.6" lengthAdjust="spacing" ><tspan font-family="Liberation Serif" font-style="italic" font-weight="normal" font-size="62.00">λ</tspan><tspan font-family="Liberation Serif" font-style="normal" font-weight="normal" font-size="62.00">(</tspan><tspan font-family="Liberation Serif" font-style="italic" font-weight="normal" font-size="62.00">t</tspan><tspan font-family="Liberation Serif" font-style="normal" font-weight="normal" font-size="62.00">)</tspan></text>
<path d="M1330.7,2664 C1312,2664 1306,2685 1296,2685 C1289,2685 1289,2664 1296,2664 C1306,2664 1312,2685 1330.7,2685" fill="none" stroke="#000" stroke-width="4.2"/>
<text x="1356.0" y="2685.0" fill="#000" stroke="#000" stroke-width="0.5" textLength="49.6" lengthAdjust="spacing" ><tspan font-family="Liberation Serif" font-style="normal" font-weight="normal" font-size="62.00">1</tspan><tspan font-family="Liberation Serif" font-style="normal" font-weight="normal" font-size="62.00">/</tspan></text>
<rect x="1418" y="2641" width="5" height="55"/>
<text x="1441.0" y="2685.0" fill="#000" stroke="#000" stroke-width="0.5" textLength="323.0" lengthAdjust="spacing" ><tspan font-family="Liberation Serif" font-style="italic" font-weight="normal" font-size="61.45">∂</tspan><tspan font-family="Liberation Serif" font-style="italic" font-weight="normal" font-size="43.01" dy="15.36">t</tspan><tspan font-family="Liberation Serif" font-style="normal" font-weight="normal" font-size="61.45" dy="-15.36" dx="15.36">log</tspan><tspan font-family="Liberation Serif" font-style="italic" font-weight="normal" font-size="61.45" dx="15.36">p</tspan><tspan font-family="Liberation Serif" font-style="italic" font-weight="normal" font-size="43.01" dy="15.36">t</tspan><tspan font-family="Liberation Serif" font-style="normal" font-weight="normal" font-size="61.45" dy="-15.36">(</tspan><tspan font-family="Liberation Serif" font-style="italic" font-weight="bold" font-size="61.45">x</tspan><tspan font-family="Liberation Serif" font-style="normal" font-weight="normal" font-size="61.45" dx="10.45">|</tspan><tspan font-family="Liberation Serif" font-style="italic" font-weight="normal" font-size="61.45" dx="10.45">z</tspan><tspan font-family="Liberation Serif" font-style="normal" font-weight="normal" font-size="61.45">)</tspan></text>
<rect x="1781" y="2641" width="5" height="55"/>
<text x="1803.8" y="2685.0" fill="#000" stroke="#000" stroke-width="0.5" ><tspan font-family="Liberation Serif" font-style="normal" font-weight="normal" font-size="62.00">.</tspan></text>
<text x="0" y="0" transform="translate(2385.4,836.0) scale(0.9455,1)" font-family="Liberation Sans" font-style="normal" font-weight="bold" font-size="54.08" fill="#000" textLength="592.1" lengthAdjust="spacing" >Theoretical guarantees</text>
<text x="0" y="0" transform="translate(2957.6,836.0) scale(0.9390,1)" font-family="Liberation Sans" font-style="normal" font-weight="normal" font-size="54.08" fill="#000" textLength="333.6" lengthAdjust="spacing" >(modified): for</text>
<text x="3289.0" y="836.0" fill="#000" stroke="#000" stroke-width="0.5" ><tspan font-family="Liberation Serif" font-style="italic" font-weight="normal" font-size="58.00">K</tspan></text>
<text x="0" y="0" transform="translate(3339.4,836.0) scale(0.9702,1)" font-family="Liberation Sans" font-style="normal" font-weight="normal" font-size="54.08" fill="#000" textLength="502.1" lengthAdjust="spacing" >integration steps and</text>
<text x="3837.0" y="836.0" fill="#000" stroke="#000" stroke-width="0.5" ><tspan font-family="Liberation Serif" font-style="italic" font-weight="normal" font-size="58.00">N</tspan></text>
<text x="0" y="0" transform="translate(3891.5,836.0) scale(0.9582,1)" font-family="Liberation Sans" font-style="normal" font-weight="normal" font-size="54.08" fill="#000" textLength="216.4" lengthAdjust="spacing" >samples,</text>
<g transform="translate(2155.12,897.81) scale(0.10933)" fill="#000"><path d="M2130,170 L2415,170 L2415,198 L2200,198 L2200,335 L2400,335 L2400,365 L2200,365 L2200,517 L2415,517 L2415,545 L2130,545 Z M2148,198 L2148,517 L2183,517 L2183,198 Z" fill-rule="evenodd"/></g>
<text x="2422.0" y="968.0" fill="#000" stroke="#000" stroke-width="0.5" ><tspan font-family="Liberation Serif" font-style="italic" font-weight="normal" font-size="43.00">p̂</tspan><tspan font-family="Liberation Serif" font-style="normal" font-weight="normal" font-size="30.10" dy="10.75">1</tspan></text>
<path d="M2470,897 L2470,1002 M2481,897 L2481,1002" stroke="#000" stroke-width="3"/>
<text x="2504.0" y="957.0" fill="#000" stroke="#000" stroke-width="0.5" textLength="78.0" lengthAdjust="spacing" ><tspan font-family="Liberation Serif" font-style="normal" font-weight="normal" font-size="61.04">log</tspan></text>
<text x="2627.0" y="911.0" fill="#000" stroke="#000" stroke-width="0.5" text-anchor="middle" ><tspan font-family="Liberation Serif" font-style="italic" font-weight="normal" font-size="62.00">p</tspan><tspan font-family="Liberation Serif" font-style="normal" font-weight="normal" font-size="43.40" dy="15.50">1</tspan></text>
<rect x="2596" y="941.5" width="63" height="3"/>
<text x="2627.0" y="1005.0" fill="#000" stroke="#000" stroke-width="0.5" text-anchor="middle" ><tspan font-family="Liberation Serif" font-style="italic" font-weight="normal" font-size="62.00">p</tspan><tspan font-family="Liberation Serif" font-style="normal" font-weight="normal" font-size="43.40" dy="15.50">0</tspan></text>
<rect x="2679" y="938" width="36" height="4"/>
<text x="2732.0" y="957.0" fill="#000" stroke="#000" stroke-width="0.5" textLength="76.0" lengthAdjust="spacing" ><tspan font-family="Liberation Serif" font-style="normal" font-weight="normal" font-size="59.48">log</tspan></text>
<text x="2857.0" y="911.0" fill="#000" stroke="#000" stroke-width="0.5" text-anchor="middle" ><tspan font-family="Liberation Serif" font-style="italic" font-weight="normal" font-size="62.00">p</tspan><tspan font-family="Liberation Serif" font-style="normal" font-weight="normal" font-size="43.40" dy="15.50">1</tspan></text>
<rect x="2826" y="941.5" width="62" height="3"/>
<text x="2857.0" y="1005.0" fill="#000" stroke="#000" stroke-width="0.5" text-anchor="middle" ><tspan font-family="Liberation Serif" font-style="italic" font-weight="normal" font-size="62.00">p</tspan><tspan font-family="Liberation Serif" font-style="normal" font-weight="normal" font-size="43.40" dy="15.50">0</tspan></text>
<path d="M2735,877 L2807,864 L2879,877" fill="none" stroke="#000" stroke-width="3"/>
<path d="M2903,897 L2903,1002 M2914,897 L2914,1002" stroke="#000" stroke-width="3"/>
<text x="2923.0" y="935.0" fill="#000" stroke="#000" stroke-width="0.5" ><tspan font-family="Liberation Serif" font-style="normal" font-weight="normal" font-size="42.00">2</tspan></text>
<text x="2923.0" y="986.0" fill="#000" stroke="#000" stroke-width="0.5" textLength="107.0" lengthAdjust="spacing" ><tspan font-family="Liberation Serif" font-style="italic" font-weight="normal" font-size="42.00">L</tspan><tspan font-family="Liberation Serif" font-style="normal" font-weight="normal" font-size="29.40" dy="-16.80">2</tspan><tspan font-family="Liberation Serif" font-style="normal" font-weight="normal" font-size="42.00" dy="16.80">(</tspan><tspan font-family="Liberation Serif" font-style="italic" font-weight="normal" font-size="42.00">p</tspan><tspan font-family="Liberation Serif" font-style="normal" font-weight="normal" font-size="29.40" dy="10.50">1</tspan><tspan font-family="Liberation Serif" font-style="normal" font-weight="normal" font-size="42.00" dy="-10.50">)</tspan></text>
<text x="3054.0" y="957.0" fill="#000" stroke="#000" stroke-width="0.5" ><tspan font-family="Liberation Serif" font-style="normal" font-weight="normal" font-size="62.00">≤</tspan></text>
<text x="3227.0" y="913.6" fill="#000" stroke="#000" stroke-width="0.5" text-anchor="middle" ><tspan font-family="Liberation Serif" font-style="normal" font-weight="normal" font-size="62.00">1</tspan></text>
<rect x="3172" y="940.5" width="110" height="3"/>
<text x="3227.0" y="1002.8" fill="#000" stroke="#000" stroke-width="0.5" text-anchor="middle" ><tspan font-family="Liberation Serif" font-style="normal" font-weight="normal" font-size="62.00">2</tspan><tspan font-family="Liberation Serif" font-style="italic" font-weight="normal" font-size="62.00">K</tspan><tspan font-family="Liberation Serif" font-style="normal" font-weight="normal" font-size="43.40" dy="-24.80">2</tspan></text>
<g transform="translate(3066.52,897.41) scale(0.10933)" fill="#000"><path d="M2130,170 L2415,170 L2415,198 L2200,198 L2200,335 L2400,335 L2400,365 L2200,365 L2200,517 L2415,517 L2415,545 L2130,545 Z M2148,198 L2148,517 L2183,517 L2183,198 Z" fill-rule="evenodd"/></g>
<text x="3334.0" y="968.0" fill="#000" stroke="#000" stroke-width="0.5" textLength="82.0" lengthAdjust="spacing" ><tspan font-family="Liberation Serif" font-style="italic" font-weight="normal" font-size="41.84">p</tspan><tspan font-family="Liberation Serif" font-style="normal" font-weight="normal" font-size="29.29" dy="10.46">1</tspan><tspan font-family="Liberation Serif" font-style="normal" font-weight="normal" font-size="41.84" dy="-10.46">(</tspan><tspan font-family="Liberation Serif" font-style="italic" font-weight="normal" font-size="41.84">x</tspan><tspan font-family="Liberation Serif" font-style="normal" font-weight="normal" font-size="41.84">)</tspan></text>
<text x="3422.0" y="960.0" fill="#000" stroke="#000" stroke-width="0.5" textLength="161.0" lengthAdjust="spacing" ><tspan font-family="Liberation Serif" font-style="normal" font-weight="normal" font-size="60.03">[</tspan><tspan font-family="Liberation Serif" font-style="italic" font-weight="normal" font-size="60.03">L</tspan><tspan font-family="Liberation Serif" font-style="normal" font-weight="normal" font-size="60.03">(</tspan><tspan font-family="Liberation Serif" font-style="italic" font-weight="normal" font-size="60.03">x</tspan><tspan font-family="Liberation Serif" font-style="normal" font-weight="normal" font-size="60.03">)</tspan><tspan font-family="Liberation Serif" font-style="normal" font-weight="normal" font-size="42.02" dy="-24.01">2</tspan><tspan font-family="Liberation Serif" font-style="normal" font-weight="normal" font-size="60.03" dy="24.01">]</tspan></text>
<path d="M3664,942 L3700,942 M3682,924 L3682,960" stroke="#000" stroke-width="4"/>
<text x="3805.0" y="913.6" fill="#000" stroke="#000" stroke-width="0.5" text-anchor="middle" ><tspan font-family="Liberation Serif" font-style="normal" font-weight="normal" font-size="62.00">2</tspan></text>
<rect x="3780" y="940.5" width="51" height="3"/>
<text x="3805.0" y="1002.8" fill="#000" stroke="#000" stroke-width="0.5" text-anchor="middle" ><tspan font-family="Liberation Serif" font-style="italic" font-weight="normal" font-size="62.00">N</tspan></text>
<text x="3848.0" y="960.0" fill="#000" stroke="#000" stroke-width="0.5" textLength="260.0" lengthAdjust="spacing" ><tspan font-family="Liberation Serif" font-style="italic" font-weight="normal" font-size="58.05">e</tspan><tspan font-family="Liberation Serif" font-style="normal" font-weight="normal" font-size="58.05">(</tspan><tspan font-family="Liberation Serif" font-style="italic" font-weight="normal" font-size="58.05">θ</tspan><tspan font-family="Liberation Serif" font-style="normal" font-weight="normal" font-size="58.05" dx="14.51">*</tspan><tspan font-family="Liberation Serif" font-style="normal" font-weight="normal" font-size="58.05" dx="14.51">,</tspan><tspan font-family="Liberation Serif" font-style="italic" font-weight="normal" font-size="58.05">λ</tspan><tspan font-family="Liberation Serif" font-style="normal" font-weight="normal" font-size="58.05">,</tspan><tspan font-family="Liberation Serif" font-style="italic" font-weight="normal" font-size="58.05" dx="14.51">p</tspan><tspan font-family="Liberation Serif" font-style="italic" font-weight="normal" font-size="40.64" dy="14.51">t</tspan><tspan font-family="Liberation Serif" font-style="normal" font-weight="normal" font-size="58.05" dy="-14.51">)</tspan></text>
<path d="M4187,942 L4223,942 M4205,924 L4205,960" stroke="#000" stroke-width="4"/>
<text x="4303.0" y="960.0" fill="#000" stroke="#000" stroke-width="0.5" ><tspan font-family="Liberation Serif" font-style="italic" font-weight="normal" font-size="62.00">o</tspan></text>
<path d="M4362,884 Q4334,940 4362,997" fill="none" stroke="#000" stroke-width="3.5"/>
<text x="4398.0" y="913.6" fill="#000" stroke="#000" stroke-width="0.5" text-anchor="middle" ><tspan font-family="Liberation Serif" font-style="normal" font-weight="normal" font-size="62.00">1</tspan></text>
<rect x="4373" y="940.5" width="51" height="3"/>
<text x="4398.0" y="1002.8" fill="#000" stroke="#000" stroke-width="0.5" text-anchor="middle" ><tspan font-family="Liberation Serif" font-style="italic" font-weight="normal" font-size="62.00">N</tspan></text>
<path d="M4436,884 Q4464,940 4436,997" fill="none" stroke="#000" stroke-width="3.5"/>
<path d="M3188,1037 Q3194,1051 3228,1051 L3388.0,1051 Q3404.0,1052 3408.0,1059 Q3412.0,1052 3428.0,1051 L3588,1051 Q3622,1051 3628,1037" fill="none" stroke="#000" stroke-width="4.6"/>
<path d="M3795,1037 Q3801,1051 3835,1051 L3967.0,1051 Q3983.0,1052 3987.0,1059 Q3991.0,1052 4007.0,1051 L4139,1051 Q4173,1051 4179,1037" fill="none" stroke="#000" stroke-width="4.6"/>
<text x="0" y="0" transform="translate(3150.3,1107.5) scale(0.9681,1)" font-family="Liberation Sans" font-style="italic" font-weight="normal" font-size="43.68" fill="#000" textLength="514.7" lengthAdjust="spacing" >integral discretization error</text>
<text x="0" y="0" transform="translate(3150.3,1168.0) scale(0.9606,1)" font-family="Liberation Sans" font-style="italic" font-weight="normal" font-size="43.68" fill="#851252" textLength="102.0" lengthAdjust="spacing" >null if</text>
<text x="3264.0" y="1168.0" fill="#851252" stroke="#851252" stroke-width="0.5" textLength="302.0" lengthAdjust="spacing" ><tspan font-family="Liberation Serif" font-style="italic" font-weight="normal" font-size="49.47">t</tspan><tspan font-family="Liberation Serif" font-style="normal" font-weight="normal" font-size="49.47" dx="12.37">→</tspan><tspan font-family="Liberation Serif" font-style="italic" font-weight="normal" font-size="49.47" dx="12.37">∂</tspan><tspan font-family="Liberation Serif" font-style="italic" font-weight="normal" font-size="34.63" dy="12.37">t</tspan><tspan font-family="Liberation Serif" font-style="normal" font-weight="normal" font-size="49.47" dy="-12.37" dx="12.37">log</tspan><tspan font-family="Liberation Serif" font-style="italic" font-weight="normal" font-size="49.47" dx="12.37">p</tspan><tspan font-family="Liberation Serif" font-style="italic" font-weight="normal" font-size="34.63" dy="12.37">t</tspan><tspan font-family="Liberation Serif" font-style="normal" font-weight="normal" font-size="49.47" dy="-12.37">(</tspan><tspan font-family="Liberation Serif" font-style="italic" font-weight="bold" font-size="49.47">x</tspan><tspan font-family="Liberation Serif" font-style="normal" font-weight="normal" font-size="49.47">)</tspan></text>
<text x="0" y="0" transform="translate(3578.6,1168.0) scale(1.0000,1)" font-family="Liberation Sans" font-style="italic" font-weight="normal" font-size="43.68" fill="#851252" textLength="178.5" lengthAdjust="spacing" >constant,</text>
<text x="0" y="0" transform="translate(3150.3,1217.7) scale(0.9602,1)" font-family="Liberation Sans" font-style="italic" font-weight="normal" font-size="43.68" fill="#851252" textLength="628.8" lengthAdjust="spacing" >i.e. Lipschitz constant L(x) is null</text>
<text x="0" y="0" transform="translate(3811.5,1124.5) scale(0.9727,1)" font-family="Liberation Sans" font-style="italic" font-weight="normal" font-size="43.68" fill="#000" textLength="422.4" lengthAdjust="spacing" >score estimation error</text>
<text x="0" y="0" transform="translate(3810.9,1183.8) scale(0.9645,1)" font-family="Liberation Sans" font-style="italic" font-weight="normal" font-size="43.68" fill="#851252" textLength="102.0" lengthAdjust="spacing" >null if</text>
<text x="3924.5" y="1183.8" fill="#851252" stroke="#851252" stroke-width="0.5" textLength="542.2" lengthAdjust="spacing" ><tspan font-family="Liberation Serif" font-style="italic" font-weight="normal" font-size="52.00">∂</tspan><tspan font-family="Liberation Serif" font-style="italic" font-weight="normal" font-size="36.40" dy="13.00">t</tspan><tspan font-family="Liberation Serif" font-style="normal" font-weight="normal" font-size="52.00" dy="-13.00" dx="13.00">log</tspan><tspan font-family="Liberation Serif" font-style="italic" font-weight="normal" font-size="52.00" dx="13.00">p</tspan><tspan font-family="Liberation Serif" font-style="italic" font-weight="normal" font-size="36.40" dy="13.00">t</tspan><tspan font-family="Liberation Serif" font-style="normal" font-weight="normal" font-size="52.00" dy="-13.00">(</tspan><tspan font-family="Liberation Serif" font-style="italic" font-weight="bold" font-size="52.00">x</tspan><tspan font-family="Liberation Serif" font-style="normal" font-weight="normal" font-size="52.00">|</tspan><tspan font-family="Liberation Serif" font-style="italic" font-weight="normal" font-size="52.00">z</tspan><tspan font-family="Liberation Serif" font-style="normal" font-weight="normal" font-size="52.00">)</tspan><tspan font-family="Liberation Serif" font-style="normal" font-weight="normal" font-size="52.00" dx="13.00">=</tspan><tspan font-family="Liberation Serif" font-style="italic" font-weight="normal" font-size="52.00" dx="13.00">∂</tspan><tspan font-family="Liberation Serif" font-style="italic" font-weight="normal" font-size="36.40" dy="13.00">t</tspan><tspan font-family="Liberation Serif" font-style="normal" font-weight="normal" font-size="52.00" dy="-13.00" dx="13.00">log</tspan><tspan font-family="Liberation Serif" font-style="italic" font-weight="normal" font-size="52.00" dx="13.00">p</tspan><tspan font-family="Liberation Serif" font-style="italic" font-weight="normal" font-size="36.40" dy="13.00">t</tspan><tspan font-family="Liberation Serif" font-style="normal" font-weight="normal" font-size="52.00" dy="-13.00">(</tspan><tspan font-family="Liberation Serif" font-style="italic" font-weight="bold" font-size="52.00">x</tspan><tspan font-family="Liberation Serif" font-style="normal" font-weight="normal" font-size="52.00">)</tspan></text>
<text x="0" y="0" transform="translate(2362.9,1299.4) scale(0.9636,1)" font-family="Liberation Sans" font-style="normal" font-weight="bold" font-size="55.12" fill="#000" textLength="1035.1" lengthAdjust="spacing" >Applications of density-ratio estimation</text>
<text x="0" y="0" transform="translate(2374.7,1440.6) scale(0.9702,1)" font-family="Liberation Sans" font-style="normal" font-weight="bold" font-size="55.12" fill="#000" textLength="787.0" lengthAdjust="spacing" >Mutual information estimation</text>
<text x="0" y="0" transform="translate(2374.8,1517.2) scale(0.9719,1)" font-family="Liberation Sans" font-style="normal" font-weight="normal" font-size="55.12" fill="#000" textLength="202.1" lengthAdjust="spacing" >CTSM-v</text>
<text x="0" y="0" transform="translate(2602.3,1517.2) scale(1.0000,1)" font-family="Liberation Sans" font-style="normal" font-weight="normal" font-size="55.12" fill="#000" textLength="40.7" lengthAdjust="spacing" >is</text>
<text x="0" y="0" transform="translate(2674.2,1517.2) scale(0.9771,1)" font-family="Liberation Sans" font-style="normal" font-weight="normal" font-size="55.12" fill="#000" textLength="137.9" lengthAdjust="spacing" >faster</text>
<text x="0" y="0" transform="translate(2839.2,1517.2) scale(0.9829,1)" font-family="Liberation Sans" font-style="normal" font-weight="normal" font-size="55.12" fill="#000" textLength="92.0" lengthAdjust="spacing" >and</text>
<text x="0" y="0" transform="translate(2958.7,1517.2) scale(0.9963,1)" font-family="Liberation Sans" font-style="normal" font-weight="normal" font-size="55.12" fill="#000" textLength="294.1" lengthAdjust="spacing" >outperforms</text>
<text x="0" y="0" transform="translate(2375.3,1593.0) scale(0.9730,1)" font-family="Liberation Sans" font-style="normal" font-weight="normal" font-size="55.12" fill="#000" textLength="897.7" lengthAdjust="spacing" >others especially in high dimensions.</text>
<text x="0" y="0" transform="translate(2373.9,1774.6) scale(0.9663,1)" font-family="Liberation Sans" font-style="normal" font-weight="bold" font-size="55.12" fill="#000" textLength="275.6" lengthAdjust="spacing" >Likelihood</text>
<text x="0" y="0" transform="translate(2668.8,1774.6) scale(0.9779,1)" font-family="Liberation Sans" font-style="normal" font-weight="bold" font-size="55.12" fill="#000" textLength="275.7" lengthAdjust="spacing" >estimation</text>
<text x="0" y="0" transform="translate(2966.4,1774.6) scale(0.9156,1)" font-family="Liberation Sans" font-style="italic" font-weight="normal" font-size="55.12" fill="#000" textLength="61.3" lengthAdjust="spacing" >(in</text>
<text x="0" y="0" transform="translate(3055.2,1774.6) scale(0.9899,1)" font-family="Liberation Sans" font-style="italic" font-weight="normal" font-size="55.12" fill="#000" textLength="85.8" lengthAdjust="spacing" >bits</text>
<text x="0" y="0" transform="translate(3172.4,1774.6) scale(0.9762,1)" font-family="Liberation Sans" font-style="italic" font-weight="normal" font-size="55.12" fill="#000" textLength="79.7" lengthAdjust="spacing" >per</text>
<text x="0" y="0" transform="translate(2375.7,1851.3) scale(0.9557,1)" font-family="Liberation Sans" font-style="italic" font-weight="normal" font-size="55.12" fill="#000" textLength="413.6" lengthAdjust="spacing" >dimension, BPD)</text>
<text x="0" y="0" transform="translate(2765.0,1851.3) scale(0.9696,1)" font-family="Liberation Sans" font-style="normal" font-weight="normal" font-size="55.12" fill="#000" textLength="217.5" lengthAdjust="spacing" >. We use</text>
<text x="2377.6" y="1980.4" fill="#000" stroke="#000" stroke-width="0.5" textLength="185.4" lengthAdjust="spacing" ><tspan font-family="Liberation Serif" font-style="normal" font-weight="normal" font-size="52.32">log</tspan><tspan font-family="Liberation Serif" font-style="italic" font-weight="normal" font-size="52.32" dx="13.08">p</tspan><tspan font-family="Liberation Serif" font-style="normal" font-weight="normal" font-size="36.62" dy="13.08">1</tspan><tspan font-family="Liberation Serif" font-style="normal" font-weight="normal" font-size="52.32" dy="-13.08">(</tspan><tspan font-family="Liberation Serif" font-style="italic" font-weight="bold" font-size="52.32">x</tspan><tspan font-family="Liberation Serif" font-style="normal" font-weight="normal" font-size="52.32">)</tspan></text>
<rect x="2582" y="1960.4" width="32" height="4.4" fill="#000"/><rect x="2582" y="1971.4" width="32" height="4.4" fill="#000"/>
<text x="2632.5" y="1980.4" fill="#000" stroke="#000" stroke-width="0.5" textLength="187.5" lengthAdjust="spacing" ><tspan font-family="Liberation Serif" font-style="normal" font-weight="normal" font-size="52.91">log</tspan><tspan font-family="Liberation Serif" font-style="italic" font-weight="normal" font-size="52.91" dx="13.23">p</tspan><tspan font-family="Liberation Serif" font-style="normal" font-weight="normal" font-size="37.04" dy="13.23">0</tspan><tspan font-family="Liberation Serif" font-style="normal" font-weight="normal" font-size="52.91" dy="-13.23">(</tspan><tspan font-family="Liberation Serif" font-style="italic" font-weight="bold" font-size="52.91">x</tspan><tspan font-family="Liberation Serif" font-style="normal" font-weight="normal" font-size="52.91">)</tspan></text>
<path d="M2832,1962 L2868,1962 M2850,1944 L2850,1980" stroke="#000" stroke-width="3.6"/>
<g><path d="M2914,1917 C2915,1909 2908,1907 2903,1912 C2897,1918 2898,1938 2897,1953 L2897,1984 C2896,1999 2897,2019 2891,2025 C2886,2030 2879,2028 2880,2020" fill="none" stroke="#000" stroke-width="3.2"/><path d="M2897.4,1943 L2897.4,1994" stroke="#000" stroke-width="4.6" stroke-linecap="round"/><path d="M2897.2,1958 L2897.2,1979" stroke="#000" stroke-width="5.6" stroke-linecap="round"/><circle cx="2911" cy="1916" r="4"/><circle cx="2883" cy="2021" r="4"/></g>
<text x="2919.0" y="1920.0" fill="#000" stroke="#000" stroke-width="0.5" ><tspan font-family="Liberation Serif" font-style="normal" font-weight="normal" font-size="42.00">1</tspan></text>
<text x="2916.0" y="2037.0" fill="#000" stroke="#000" stroke-width="0.5" ><tspan font-family="Liberation Serif" font-style="normal" font-weight="normal" font-size="42.00">0</tspan></text>
<text x="2947.0" y="1980.4" fill="#000" stroke="#000" stroke-width="0.5" textLength="268.4" lengthAdjust="spacing" ><tspan font-family="Liberation Serif" font-style="italic" font-weight="normal" font-size="52.58">∂</tspan><tspan font-family="Liberation Serif" font-style="italic" font-weight="normal" font-size="36.80" dy="13.14">t</tspan><tspan font-family="Liberation Serif" font-style="normal" font-weight="normal" font-size="52.58" dy="-13.14" dx="13.14">log</tspan><tspan font-family="Liberation Serif" font-style="italic" font-weight="normal" font-size="52.58" dx="13.14">p</tspan><tspan font-family="Liberation Serif" font-style="italic" font-weight="normal" font-size="36.80" dy="13.14">t</tspan><tspan font-family="Liberation Serif" font-style="normal" font-weight="normal" font-size="52.58" dy="-13.14">(</tspan><tspan font-family="Liberation Serif" font-style="italic" font-weight="bold" font-size="52.58">x</tspan><tspan font-family="Liberation Serif" font-style="normal" font-weight="normal" font-size="52.58">)</tspan><tspan font-family="Liberation Serif" font-style="normal" font-weight="normal" font-size="52.58">d</tspan><tspan font-family="Liberation Serif" font-style="italic" font-weight="normal" font-size="52.58">t</tspan></text>
<path d="M2647,2013 Q2653,2023 2687,2023 L2724.5,2023 Q2740.5,2024 2744.5,2031 Q2748.5,2024 2764.5,2023 L2802,2023 Q2836,2023 2842,2013" fill="none" stroke="#000" stroke-width="4.2"/>
<path d="M2955,2013 Q2961,2023 2995,2023 L3062.0,2023 Q3078.0,2024 3082.0,2031 Q3086.0,2024 3102.0,2023 L3169,2023 Q3203,2023 3209,2013" fill="none" stroke="#000" stroke-width="4.2"/>
<text x="0" y="0" transform="translate(2671.6,2087.0) scale(0.9830,1)" font-family="Liberation Sans" font-style="italic" font-weight="normal" font-size="44.72" fill="#000" textLength="136.7" lengthAdjust="spacing" >Known</text>
<text x="0" y="0" transform="translate(2982.1,2089.0) scale(0.9339,1)" font-family="Liberation Sans" font-style="italic" font-weight="normal" font-size="44.72" fill="#000" textLength="198.8" lengthAdjust="spacing" >Estimated</text>
<text x="0" y="0" transform="translate(2363.9,2228.6) scale(0.9689,1)" font-family="Liberation Sans" font-style="normal" font-weight="bold" font-size="55.12" fill="#000" textLength="196.1" lengthAdjust="spacing" >Sample</text>
<text x="0" y="0" transform="translate(2576.7,2228.6) scale(0.9747,1)" font-family="Liberation Sans" font-style="normal" font-weight="bold" font-size="55.12" fill="#000" textLength="297.1" lengthAdjust="spacing" >generation.</text>
<text x="0" y="0" transform="translate(2888.5,2228.6) scale(0.9070,1)" font-family="Liberation Sans" font-style="normal" font-weight="normal" font-size="55.12" fill="#000" textLength="82.7" lengthAdjust="spacing" >We</text>
<text x="0" y="0" transform="translate(2985.2,2228.6) scale(0.9861,1)" font-family="Liberation Sans" font-style="normal" font-weight="normal" font-size="55.12" fill="#000" textLength="180.8" lengthAdjust="spacing" >convert</text>
<text x="0" y="0" transform="translate(3188.2,2228.6) scale(0.9956,1)" font-family="Liberation Sans" font-style="normal" font-weight="normal" font-size="55.12" fill="#000" textLength="76.6" lengthAdjust="spacing" >the</text>
<text x="0" y="0" transform="translate(2363.2,2305.2) scale(0.9976,1)" font-family="Liberation Sans" font-style="normal" font-weight="normal" font-size="55.12" fill="#000" textLength="239.0" lengthAdjust="spacing" >estimated</text>
<text x="0" y="0" transform="translate(2641.8,2305.2) scale(1.0000,1)" font-family="Liberation Sans" font-style="normal" font-weight="normal" font-size="55.12" fill="#000" textLength="104.2" lengthAdjust="spacing" >time</text>
<text x="0" y="0" transform="translate(2786.5,2305.2) scale(0.9765,1)" font-family="Liberation Sans" font-style="normal" font-weight="normal" font-size="55.12" fill="#000" textLength="162.3" lengthAdjust="spacing" >scores</text>
<text x="0" y="0" transform="translate(2983.8,2305.2) scale(1.0000,1)" font-family="Liberation Sans" font-style="normal" font-weight="normal" font-size="55.12" fill="#000" textLength="92.5" lengthAdjust="spacing" >into</text>
<text x="0" y="0" transform="translate(3117.1,2305.2) scale(1.0000,1)" font-family="Liberation Sans" font-style="normal" font-weight="normal" font-size="55.12" fill="#000" textLength="147.4" lengthAdjust="spacing" >space</text>
<text x="0" y="0" transform="translate(2364.0,2381.9) scale(0.9709,1)" font-family="Liberation Sans" font-style="normal" font-weight="normal" font-size="55.12" fill="#000" textLength="162.3" lengthAdjust="spacing" >scores</text>
<text x="0" y="0" transform="translate(2551.7,2381.9) scale(0.9992,1)" font-family="Liberation Sans" font-style="normal" font-weight="normal" font-size="55.12" fill="#000" textLength="92.0" lengthAdjust="spacing" >and</text>
<text x="0" y="0" transform="translate(2673.4,2381.9) scale(1.0000,1)" font-family="Liberation Sans" font-style="normal" font-weight="normal" font-size="55.12" fill="#000" textLength="105.8" lengthAdjust="spacing" >plug</text>
<text x="0" y="0" transform="translate(2809.2,2381.9) scale(0.9913,1)" font-family="Liberation Sans" font-style="normal" font-weight="normal" font-size="55.12" fill="#000" textLength="122.5" lengthAdjust="spacing" >them</text>
<text x="0" y="0" transform="translate(2957.3,2381.9) scale(1.0000,1)" font-family="Liberation Sans" font-style="normal" font-weight="normal" font-size="55.12" fill="#000" textLength="93.0" lengthAdjust="spacing" >into</text>
<text x="0" y="0" transform="translate(3080.4,2381.9) scale(0.9923,1)" font-family="Liberation Sans" font-style="normal" font-weight="normal" font-size="55.12" fill="#000" textLength="183.9" lengthAdjust="spacing" >popular</text>
<text x="0" y="0" transform="translate(2364.0,2457.7) scale(0.9790,1)" font-family="Liberation Sans" font-style="normal" font-weight="normal" font-size="55.12" fill="#000" textLength="557.6" lengthAdjust="spacing" >score-based samplers.</text>
<path d="M2375,2544.5 L2403.6,2544.5 L2389.3,2572.5 Z" fill="none" stroke="#000" stroke-width="3" stroke-linejoin="miter"/><path d="M2377,2545 L2389.3,2570.5" stroke="#000" stroke-width="5"/>
<text x="2408.7" y="2573.5" fill="#000" stroke="#000" stroke-width="0.5" textLength="159.3" lengthAdjust="spacing" ><tspan font-family="Liberation Serif" font-style="normal" font-weight="normal" font-size="47.01">log</tspan><tspan font-family="Liberation Serif" font-style="italic" font-weight="normal" font-size="47.01" dx="11.75">p</tspan><tspan font-family="Liberation Serif" font-style="italic" font-weight="normal" font-size="32.91" dy="11.75">t</tspan><tspan font-family="Liberation Serif" font-style="normal" font-weight="normal" font-size="47.01" dy="-11.75">(</tspan><tspan font-family="Liberation Serif" font-style="italic" font-weight="bold" font-size="47.01">x</tspan><tspan font-family="Liberation Serif" font-style="normal" font-weight="normal" font-size="47.01">)</tspan></text>
<rect x="2584" y="2553.5" width="28" height="4.4" fill="#000"/><rect x="2584" y="2564.5" width="28" height="4.4" fill="#000"/>
<path d="M2629.5,2544.5 L2658,2544.5 L2643.75,2572.5 Z" fill="none" stroke="#000" stroke-width="3" stroke-linejoin="miter"/><path d="M2631.5,2545 L2643.75,2570.5" stroke="#000" stroke-width="5"/>
<path d="M2697,2503 Q2662,2561 2697,2620" fill="none" stroke="#000" stroke-width="4"/>
<text x="2703.0" y="2573.5" fill="#000" stroke="#000" stroke-width="0.5" textLength="165.5" lengthAdjust="spacing" ><tspan font-family="Liberation Serif" font-style="normal" font-weight="normal" font-size="46.70">log</tspan><tspan font-family="Liberation Serif" font-style="italic" font-weight="normal" font-size="46.70" dx="11.68">p</tspan><tspan font-family="Liberation Serif" font-style="normal" font-weight="normal" font-size="32.69" dy="11.68">0</tspan><tspan font-family="Liberation Serif" font-style="normal" font-weight="normal" font-size="46.70" dy="-11.68">(</tspan><tspan font-family="Liberation Serif" font-style="italic" font-weight="bold" font-size="46.70">x</tspan><tspan font-family="Liberation Serif" font-style="normal" font-weight="normal" font-size="46.70">)</tspan></text>
<path d="M2881,2556 L2912,2556 M2896.5,2540.5 L2896.5,2571.5" stroke="#000" stroke-width="3.2"/>
<g><path d="M2954,2517 C2955,2509 2948,2507 2943,2512 C2937,2518 2938,2538 2937,2553 L2937,2575 C2936,2590 2937,2610 2931,2616 C2926,2621 2919,2619 2920,2611" fill="none" stroke="#000" stroke-width="3.2"/><path d="M2937.4,2543 L2937.4,2585" stroke="#000" stroke-width="4.6" stroke-linecap="round"/><path d="M2937.2,2558 L2937.2,2570" stroke="#000" stroke-width="5.6" stroke-linecap="round"/><circle cx="2951" cy="2516" r="4"/><circle cx="2923" cy="2612" r="4"/></g>
<text x="2955.0" y="2520.0" fill="#000" stroke="#000" stroke-width="0.5" ><tspan font-family="Liberation Serif" font-style="italic" font-weight="normal" font-size="42.00">t</tspan></text>
<text x="2946.0" y="2622.0" fill="#000" stroke="#000" stroke-width="0.5" ><tspan font-family="Liberation Serif" font-style="normal" font-weight="normal" font-size="42.00">0</tspan></text>
<text x="2975.4" y="2573.5" fill="#000" stroke="#000" stroke-width="0.5" textLength="250.1" lengthAdjust="spacing" ><tspan font-family="Liberation Serif" font-style="italic" font-weight="normal" font-size="46.56">∂</tspan><tspan font-family="Liberation Serif" font-style="italic" font-weight="normal" font-size="32.59" dy="11.64">s</tspan><tspan font-family="Liberation Serif" font-style="normal" font-weight="normal" font-size="46.56" dy="-11.64" dx="11.64">log</tspan><tspan font-family="Liberation Serif" font-style="italic" font-weight="normal" font-size="46.56" dx="11.64">p</tspan><tspan font-family="Liberation Serif" font-style="italic" font-weight="normal" font-size="32.59" dy="11.64">s</tspan><tspan font-family="Liberation Serif" font-style="normal" font-weight="normal" font-size="46.56" dy="-11.64">(</tspan><tspan font-family="Liberation Serif" font-style="italic" font-weight="bold" font-size="46.56">x</tspan><tspan font-family="Liberation Serif" font-style="normal" font-weight="normal" font-size="46.56">)</tspan><tspan font-family="Liberation Serif" font-style="italic" font-weight="normal" font-size="46.56">d</tspan><tspan font-family="Liberation Serif" font-style="italic" font-weight="normal" font-size="46.56">s</tspan></text>
<path d="M3232,2503 Q3267,2561 3232,2620" fill="none" stroke="#000" stroke-width="4"/>
<path d="M2705,2604 Q2711,2612 2745,2612 L2760.5,2612 Q2776.5,2613 2780.5,2620 Q2784.5,2613 2800.5,2612 L2816,2612 Q2850,2612 2856,2604" fill="none" stroke="#000" stroke-width="4"/>
<path d="M3000,2604 Q3006,2612 3040,2612 L3068.5,2612 Q3084.5,2613 3088.5,2620 Q3092.5,2613 3108.5,2612 L3137,2612 Q3171,2612 3177,2604" fill="none" stroke="#000" stroke-width="4"/>
<text x="0" y="0" transform="translate(2703.6,2658.0) scale(0.9683,1)" font-family="Liberation Sans" font-style="italic" font-weight="normal" font-size="44.72" fill="#000" textLength="136.7" lengthAdjust="spacing" >Known</text>
<text x="0" y="0" transform="translate(2990.1,2658.0) scale(0.9339,1)" font-family="Liberation Sans" font-style="italic" font-weight="normal" font-size="44.72" fill="#000" textLength="198.8" lengthAdjust="spacing" >Estimated</text>
<g transform="translate(3430,1370) scale(0.235849)"><line x1="425" y1="105" x2="1475" y2="105" stroke="#e6e6e6" stroke-width="5"/><line x1="425" y1="355" x2="1475" y2="355" stroke="#e6e6e6" stroke-width="5"/><line x1="425" y1="603" x2="1475" y2="603" stroke="#e6e6e6" stroke-width="5"/><line x1="425" y1="852" x2="1475" y2="852" stroke="#e6e6e6" stroke-width="5"/><line x1="675" y1="105" x2="675" y2="1100" stroke="#e6e6e6" stroke-width="5"/><line x1="1017" y1="105" x2="1017" y2="1100" stroke="#e6e6e6" stroke-width="5"/><line x1="1357" y1="105" x2="1357" y2="1100" stroke="#e6e6e6" stroke-width="5"/><polygon points="470,105 605,900 880,600 1425,105 1425,230 880,680 605,975 470,1100" fill="#9dbbe0" opacity="0.45"/><polygon points="470,520 605,1000 880,940 1425,770 1425,875 880,1010 605,1080 470,1100" fill="#f0b27a" opacity="0.45"/><polygon points="605,1010 880,955 1425,790 1425,870 880,1000 605,1070" fill="#cfe2c0" opacity="0.6"/><polyline points="470,878 605,935 880,640 1425,155" fill="none" stroke="#4878b4" stroke-width="30" stroke-linejoin="round" stroke-linecap="round" /><circle cx="470" cy="878" r="21" fill="#4878b4"/><circle cx="605" cy="935" r="21" fill="#4878b4"/><circle cx="880" cy="640" r="21" fill="#4878b4"/><circle cx="1425" cy="155" r="21" fill="#4878b4"/><polyline points="470,1025 605,1040 880,975 1425,815" fill="none" stroke="#e07b24" stroke-width="30" stroke-linejoin="round" stroke-linecap="round" /><circle cx="470" cy="1025" r="21" fill="#e07b24"/><circle cx="605" cy="1040" r="21" fill="#e07b24"/><circle cx="880" cy="975" r="21" fill="#e07b24"/><circle cx="1425" cy="815" r="21" fill="#e07b24"/><polyline points="470,1065 605,1045 880,978 1425,830" fill="none" stroke="#5ea03a" stroke-width="30" stroke-linejoin="round" stroke-linecap="round" /><circle cx="470" cy="1065" r="21" fill="#5ea03a"/><circle cx="605" cy="1045" r="21" fill="#5ea03a"/><circle cx="880" cy="978" r="21" fill="#5ea03a"/><circle cx="1425" cy="830" r="21" fill="#5ea03a"/><path d="M425,105 L425,1100 L1475,1100" fill="none" stroke="#333" stroke-width="6"/><line x1="400" y1="105" x2="425" y2="105" stroke="#333" stroke-width="6"/><text x="375" y="150" font-family="Liberation Sans" font-size="126" text-anchor="end" fill="#000">80</text><line x1="400" y1="355" x2="425" y2="355" stroke="#333" stroke-width="6"/><text x="375" y="400" font-family="Liberation Sans" font-size="126" text-anchor="end" fill="#000">60</text><line x1="400" y1="603" x2="425" y2="603" stroke="#333" stroke-width="6"/><text x="375" y="648" font-family="Liberation Sans" font-size="126" text-anchor="end" fill="#000">40</text><line x1="400" y1="852" x2="425" y2="852" stroke="#333" stroke-width="6"/><text x="375" y="897" font-family="Liberation Sans" font-size="126" text-anchor="end" fill="#000">20</text><line x1="400" y1="1100" x2="425" y2="1100" stroke="#333" stroke-width="6"/><text x="375" y="1145" font-family="Liberation Sans" font-size="126" text-anchor="end" fill="#000">0</text><line x1="675" y1="1100" x2="675" y2="1125" stroke="#333" stroke-width="6"/><text x="675" y="1225" font-family="Liberation Sans" font-size="126" text-anchor="middle" fill="#000">100</text><line x1="1017" y1="1100" x2="1017" y2="1125" stroke="#333" stroke-width="6"/><text x="1017" y="1225" font-family="Liberation Sans" font-size="126" text-anchor="middle" fill="#000">200</text><line x1="1357" y1="1100" x2="1357" y2="1125" stroke="#333" stroke-width="6"/><text x="1357" y="1225" font-family="Liberation Sans" font-size="126" text-anchor="middle" fill="#000">300</text><text x="950" y="1355" font-family="Liberation Sans" font-size="126" text-anchor="middle" fill="#000">Dimensionality</text><text x="190" y="600" font-family="Liberation Sans" font-size="126" text-anchor="middle" fill="#000" transform="rotate(-90 190 600)">Time per iter. (ms)</text></g>
<g transform="translate(3800,1370) scale(0.235849)"><line x1="377" y1="248" x2="1427" y2="248" stroke="#e6e6e6" stroke-width="5"/><line x1="377" y1="540" x2="1427" y2="540" stroke="#e6e6e6" stroke-width="5"/><line x1="377" y1="832" x2="1427" y2="832" stroke="#e6e6e6" stroke-width="5"/><line x1="628" y1="105" x2="628" y2="1100" stroke="#e6e6e6" stroke-width="5"/><line x1="970" y1="105" x2="970" y2="1100" stroke="#e6e6e6" stroke-width="5"/><line x1="1310" y1="105" x2="1310" y2="1100" stroke="#e6e6e6" stroke-width="5"/><polyline points="425,1012 560,915 835,790 1380,1007" fill="none" stroke="#e07b24" stroke-width="30" stroke-linejoin="round" stroke-linecap="round" /><circle cx="425" cy="1012" r="21" fill="#e07b24"/><circle cx="560" cy="915" r="21" fill="#e07b24"/><circle cx="835" cy="790" r="21" fill="#e07b24"/><circle cx="1380" cy="1007" r="21" fill="#e07b24"/><polyline points="425,1015 560,900 835,730 1380,833" fill="none" stroke="#4878b4" stroke-width="30" stroke-linejoin="round" stroke-linecap="round" /><circle cx="835" cy="730" r="21" fill="#4878b4"/><circle cx="1380" cy="833" r="21" fill="#4878b4"/><polyline points="425,1012 1380,198" fill="none" stroke="#5ea03a" stroke-width="30" stroke-linejoin="round" stroke-linecap="round" /><circle cx="425" cy="1012" r="21" fill="#5ea03a"/><circle cx="560" cy="893" r="21" fill="#5ea03a"/><circle cx="835" cy="660" r="21" fill="#5ea03a"/><circle cx="1380" cy="198" r="21" fill="#5ea03a"/><polyline points="425,1012 1380,198" fill="none" stroke="#000" stroke-width="30" stroke-linejoin="round" stroke-linecap="round" stroke-dasharray="110 48" stroke-linecap="butt"/><path d="M377,105 L377,1100 L1427,1100" fill="none" stroke="#333" stroke-width="6"/><line x1="352" y1="248" x2="377" y2="248" stroke="#333" stroke-width="6"/><text x="330" y="293" font-family="Liberation Sans" font-size="126" text-anchor="end" fill="#000">75</text><line x1="352" y1="540" x2="377" y2="540" stroke="#333" stroke-width="6"/><text x="330" y="585" font-family="Liberation Sans" font-size="126" text-anchor="end" fill="#000">50</text><line x1="352" y1="832" x2="377" y2="832" stroke="#333" stroke-width="6"/><text x="330" y="877" font-family="Liberation Sans" font-size="126" text-anchor="end" fill="#000">25</text><line x1="628" y1="1100" x2="628" y2="1125" stroke="#333" stroke-width="6"/><text x="628" y="1225" font-family="Liberation Sans" font-size="126" text-anchor="middle" fill="#000">100</text><line x1="970" y1="1100" x2="970" y2="1125" stroke="#333" stroke-width="6"/><text x="970" y="1225" font-family="Liberation Sans" font-size="126" text-anchor="middle" fill="#000">200</text><line x1="1310" y1="1100" x2="1310" y2="1125" stroke="#333" stroke-width="6"/><text x="1310" y="1225" font-family="Liberation Sans" font-size="126" text-anchor="middle" fill="#000">300</text><text x="900" y="1355" font-family="Liberation Sans" font-size="126" text-anchor="middle" fill="#000">Dimensionality</text><text x="145" y="610" font-family="Liberation Sans" font-size="126" text-anchor="middle" fill="#000" transform="rotate(-90 145 610)">Mutual Information</text></g>
<g transform="translate(4150,1370) scale(0.235849)"><line x1="415" y1="105" x2="1465" y2="105" stroke="#e6e6e6" stroke-width="5"/><line x1="415" y1="407" x2="1465" y2="407" stroke="#e6e6e6" stroke-width="5"/><line x1="415" y1="708" x2="1465" y2="708" stroke="#e6e6e6" stroke-width="5"/><line x1="415" y1="1010" x2="1465" y2="1010" stroke="#e6e6e6" stroke-width="5"/><line x1="1113" y1="105" x2="1113" y2="1100" stroke="#e6e6e6" stroke-width="5"/><polygon points="435,735 485,740 515,710 555,690 600,715 625,710 660,730 695,715 740,730 800,745 835,770 900,770 940,740 970,795 1000,790 1045,810 1110,800 1150,860 1180,845 1220,890 1255,875 1290,970 1325,950 1360,965 1395,900 1440,905 1465,1065 1465,1140 1440,980 1395,975 1360,1040 1325,1025 1290,1045 1255,950 1220,965 1180,920 1150,935 1110,875 1045,885 1000,865 970,870 940,815 900,845 835,845 800,820 740,805 695,790 660,805 625,785 600,790 555,765 515,785 485,815 435,810" fill="#d3e6c8" opacity="0.8"/><polygon points="1330,780 1400,800 1440,860 1465,900 1465,1000 1420,880 1330,790" fill="#c6d6ea"/><polyline points="435,150 800,335 1040,470 1110,495 1250,550 1465,635" fill="none" stroke="#e07b24" stroke-width="30" stroke-linejoin="round" stroke-linecap="round" /><polyline points="435,180 480,220 600,290 800,400 940,485 1100,600 1200,665 1330,775 1440,860 1465,1000" fill="none" stroke="#4878b4" stroke-width="30" stroke-linejoin="round" stroke-linecap="round" /><polyline points="435,770 485,775 515,745 555,725 600,750 625,745 660,765 695,750 740,765 800,780 835,805 900,805 940,775 970,830 1000,825 1045,845 1110,835 1150,895 1180,880 1220,925 1255,910 1290,1005 1325,985 1360,1000 1395,935 1440,940 1465,1100" fill="none" stroke="#5ea03a" stroke-width="30" stroke-linejoin="round" stroke-linecap="round" /><path d="M415,105 L415,1100 L1465,1100" fill="none" stroke="#333" stroke-width="6"/><line x1="390" y1="105" x2="415" y2="105" stroke="#333" stroke-width="6"/><text x="370" y="150" font-family="Liberation Sans" font-size="126" text-anchor="end" fill="#000">2</text><line x1="390" y1="407" x2="415" y2="407" stroke="#333" stroke-width="6"/><text x="370" y="452" font-family="Liberation Sans" font-size="126" text-anchor="end" fill="#000">1</text><line x1="390" y1="708" x2="415" y2="708" stroke="#333" stroke-width="6"/><text x="370" y="753" font-family="Liberation Sans" font-size="126" text-anchor="end" fill="#000">0</text><line x1="390" y1="1010" x2="415" y2="1010" stroke="#333" stroke-width="6"/><text x="370" y="1055" font-family="Liberation Sans" font-size="126" text-anchor="end" fill="#000">−1</text><line x1="415" y1="1100" x2="415" y2="1125" stroke="#333" stroke-width="6"/><text x="415" y="1225" font-family="Liberation Sans" font-size="126" text-anchor="middle" fill="#000">0</text><line x1="1113" y1="1100" x2="1113" y2="1125" stroke="#333" stroke-width="6"/><text x="1113" y="1225" font-family="Liberation Sans" font-size="126" text-anchor="middle" fill="#000">20</text><text x="940" y="1355" font-family="Liberation Sans" font-size="126" text-anchor="middle" fill="#000">Iterations (x8000)</text><text x="155" y="610" font-family="Liberation Sans" font-size="126" text-anchor="middle" fill="#000" transform="rotate(-90 155 610)">Error (log10)</text></g>
<rect x="3677.5" y="1741.5" width="612" height="50" fill="#fff" stroke="#d8d8d8" stroke-width="2"/>
<rect x="3685" y="1760.5" width="63" height="7" fill="#4878b4"/>
<text x="3767.7" y="1773.7" font-family="Liberation Sans" font-size="27">TSM</text>
<rect x="3879" y="1760.5" width="63" height="7" fill="#e07b24"/>
<text x="3961.3" y="1773.7" font-family="Liberation Sans" font-size="27">CTSM</text>
<rect x="4092" y="1760.5" width="63" height="7" fill="#5ea03a"/>
<text x="4174.3" y="1773.7" font-family="Liberation Sans" font-size="27">CTSM-v</text>
<rect x="3428" y="1842" width="1176.5" height="298" fill="none" stroke="#222" stroke-width="2"/>
<line x1="3428" y1="1901.5" x2="4604.5" y2="1901.5" stroke="#222" stroke-width="2"/>
<line x1="3428" y1="2021" x2="4604.5" y2="2021" stroke="#222" stroke-width="2"/>
<line x1="3730" y1="1842" x2="3730" y2="2140" stroke="#222" stroke-width="2"/>
<line x1="3953.6" y1="1842" x2="3953.6" y2="2140" stroke="#222" stroke-width="2"/>
<line x1="4275" y1="1842" x2="4275" y2="2140" stroke="#222" stroke-width="2"/>
<text x="3580" y="1882.5" font-family="Liberation Sans" font-size="43" text-anchor="middle" font-weight="normal">Space</text>
<text x="3842.7" y="1882.5" font-family="Liberation Sans" font-size="43" text-anchor="middle" font-weight="normal">Methods</text>
<text x="4114" y="1882.5" font-family="Liberation Sans" font-size="43" text-anchor="middle" font-weight="normal">Approx.&#160; BPD</text>
<text x="4440.5" y="1882.5" font-family="Liberation Sans" font-size="43" text-anchor="middle" font-weight="normal">Time per step</text>
<text x="3580" y="1972.6" font-family="Liberation Sans" font-size="43" text-anchor="middle" font-weight="normal">Latent space</text>
<text x="3580" y="2092.6" font-family="Liberation Sans" font-size="43" text-anchor="middle" font-weight="normal">Pixel space</text>
<text x="3842.7" y="1942.6" font-family="Liberation Sans" font-size="43" text-anchor="middle" font-weight="normal">TSM</text>
<text x="3842.7" y="2002.6" font-family="Liberation Sans" font-size="43" text-anchor="middle" font-weight="bold">Ours</text>
<text x="3842.7" y="2062.6" font-family="Liberation Sans" font-size="43" text-anchor="middle" font-weight="normal">TSM</text>
<text x="3842.7" y="2122.6" font-family="Liberation Sans" font-size="43" text-anchor="middle" font-weight="bold">Ours</text>
<text x="4114" y="1942.6" font-family="Liberation Sans" font-size="43" text-anchor="middle" font-weight="normal">1.30</text>
<text x="4114" y="2002.6" font-family="Liberation Sans" font-size="43" text-anchor="middle" font-weight="bold">1.26</text>
<text x="4114" y="2062.6" font-family="Liberation Sans" font-size="43" text-anchor="middle" font-weight="normal">unstable</text>
<text x="4114" y="2122.6" font-family="Liberation Sans" font-size="43" text-anchor="middle" font-weight="bold">1.03</text>
<text x="4440.5" y="1942.6" font-family="Liberation Sans" font-size="43" text-anchor="middle" font-weight="normal">347 ms</text>
<text x="4440.5" y="2002.6" font-family="Liberation Sans" font-size="43" text-anchor="middle" font-weight="bold">58 ms</text>
<text x="4440.5" y="2062.6" font-family="Liberation Sans" font-size="43" text-anchor="middle" font-weight="normal">1103 ms</text>
<text x="4440.5" y="2122.6" font-family="Liberation Sans" font-size="43" text-anchor="middle" font-weight="bold">142 ms</text>
<text x="0" y="0" transform="translate(3454.5,2345.0) scale(0.9624,1)" font-family="Liberation Sans" font-style="normal" font-weight="normal" font-size="38.48" fill="#000" textLength="477.1" lengthAdjust="spacing" >Annealed Langevin sampler</text>
<text x="0" y="0" transform="translate(4025.6,2345.0) scale(0.9748,1)" font-family="Liberation Sans" font-style="normal" font-weight="normal" font-size="38.48" fill="#000" textLength="500.4" lengthAdjust="spacing" >Probability flow ODE sampler</text>
<rect x="3529" y="2377" width="333" height="333" fill="#000"/>
<g font-family="Liberation Sans" font-style="italic" font-size="35" fill="#eeeeee" stroke="#eeeeee" stroke-width="0.4"><text x="3551.2" y="2409.9" text-anchor="middle" transform="rotate(4.5 3551.2 2397.9)">2</text><text x="3591.0" y="2410.3" text-anchor="middle" transform="rotate(4.8 3591.0 2398.3)">3</text><text x="3633.6" y="2409.3" text-anchor="middle" transform="rotate(-8.4 3633.6 2397.3)">5</text><text x="3674.0" y="2410.9" text-anchor="middle" transform="rotate(7.3 3674.0 2398.9)">5</text><text x="3716.3" y="2412.0" text-anchor="middle" transform="rotate(-2.2 3716.3 2400.0)">0</text><text x="3758.9" y="2411.7" text-anchor="middle" transform="rotate(3.6 3758.9 2399.7)">4</text><text x="3798.1" y="2409.4" text-anchor="middle" transform="rotate(-2.4 3798.1 2397.4)">2</text><text x="3841.5" y="2411.2" text-anchor="middle" transform="rotate(-6.1 3841.5 2399.2)">6</text><text x="3550.9" y="2452.6" text-anchor="middle" transform="rotate(7.3 3550.9 2440.6)">3</text><text x="3592.9" y="2452.8" text-anchor="middle" transform="rotate(-11.0 3592.9 2440.8)">3</text><text x="3634.1" y="2453.0" text-anchor="middle" transform="rotate(2.6 3634.1 2441.0)">7</text><text x="3676.0" y="2451.6" text-anchor="middle" transform="rotate(3.8 3676.0 2439.6)">5</text><text x="3715.9" y="2450.9" text-anchor="middle" transform="rotate(-6.0 3715.9 2438.9)">4</text><text x="3757.1" y="2452.1" text-anchor="middle" transform="rotate(-8.1 3757.1 2440.1)">9</text><text x="3800.0" y="2451.2" text-anchor="middle" transform="rotate(6.1 3800.0 2439.2)">8</text><text x="3842.1" y="2454.4" text-anchor="middle" transform="rotate(-4.1 3842.1 2442.4)">5</text><text x="3548.2" y="2493.7" text-anchor="middle" transform="rotate(4.7 3548.2 2481.7)">2</text><text x="3590.5" y="2493.6" text-anchor="middle" transform="rotate(-5.7 3590.5 2481.6)">6</text><text x="3633.4" y="2493.4" text-anchor="middle" transform="rotate(-9.2 3633.4 2481.4)">3</text><text x="3675.6" y="2494.2" text-anchor="middle" transform="rotate(-8.6 3675.6 2482.2)">0</text><text x="3715.0" y="2492.2" text-anchor="middle" transform="rotate(0.9 3715.0 2480.2)">9</text><text x="3757.3" y="2492.2" text-anchor="middle" transform="rotate(-4.6 3757.3 2480.2)">2</text><text x="3797.8" y="2493.3" text-anchor="middle" transform="rotate(0.1 3797.8 2481.3)">0</text><text x="3839.4" y="2493.4" text-anchor="middle" transform="rotate(5.2 3839.4 2481.4)">3</text><text x="3551.5" y="2534.1" text-anchor="middle" transform="rotate(-3.0 3551.5 2522.1)">8</text><text x="3592.9" y="2535.1" text-anchor="middle" transform="rotate(-10.2 3592.9 2523.1)">0</text><text x="3631.5" y="2534.3" text-anchor="middle" transform="rotate(-2.3 3631.5 2522.3)">6</text><text x="3674.4" y="2535.6" text-anchor="middle" transform="rotate(-6.8 3674.4 2523.6)">6</text><text x="3715.0" y="2536.4" text-anchor="middle" transform="rotate(-9.6 3715.0 2524.4)">9</text><text x="3758.1" y="2534.5" text-anchor="middle" transform="rotate(-3.5 3758.1 2522.5)">3</text><text x="3799.9" y="2535.5" text-anchor="middle" transform="rotate(-6.4 3799.9 2523.5)">8</text><text x="3842.7" y="2535.8" text-anchor="middle" transform="rotate(-4.5 3842.7 2523.8)">0</text><text x="3549.8" y="2577.9" text-anchor="middle" transform="rotate(-7.6 3549.8 2565.9)">9</text><text x="3589.8" y="2578.0" text-anchor="middle" transform="rotate(-8.2 3589.8 2566.0)">8</text><text x="3633.8" y="2576.6" text-anchor="middle" transform="rotate(6.6 3633.8 2564.6)">5</text><text x="3675.6" y="2575.6" text-anchor="middle" transform="rotate(8.0 3675.6 2563.6)">5</text><text x="3717.3" y="2576.1" text-anchor="middle" transform="rotate(-8.5 3717.3 2564.1)">2</text><text x="3756.0" y="2577.6" text-anchor="middle" transform="rotate(5.1 3756.0 2565.6)">6</text><text x="3798.9" y="2576.8" text-anchor="middle" transform="rotate(-9.5 3798.9 2564.8)">9</text><text x="3840.5" y="2578.1" text-anchor="middle" transform="rotate(4.0 3840.5 2566.1)">3</text><text x="3549.3" y="2617.4" text-anchor="middle" transform="rotate(0.9 3549.3 2605.4)">6</text><text x="3593.3" y="2617.5" text-anchor="middle" transform="rotate(2.7 3593.3 2605.5)">8</text><text x="3631.7" y="2620.1" text-anchor="middle" transform="rotate(-10.5 3631.7 2608.1)">4</text><text x="3676.4" y="2617.4" text-anchor="middle" transform="rotate(-3.8 3676.4 2605.4)">0</text><text x="3717.5" y="2619.5" text-anchor="middle" transform="rotate(-6.5 3717.5 2607.5)">9</text><text x="3759.1" y="2616.9" text-anchor="middle" transform="rotate(-0.2 3759.1 2604.9)">5</text><text x="3801.4" y="2618.3" text-anchor="middle" transform="rotate(6.7 3801.4 2606.3)">7</text><text x="3840.0" y="2618.3" text-anchor="middle" transform="rotate(-6.1 3840.0 2606.3)">7</text><text x="3549.6" y="2660.2" text-anchor="middle" transform="rotate(-6.7 3549.6 2648.2)">2</text><text x="3591.3" y="2661.9" text-anchor="middle" transform="rotate(-9.6 3591.3 2649.9)">3</text><text x="3633.0" y="2658.9" text-anchor="middle" transform="rotate(5.7 3633.0 2646.9)">5</text><text x="3673.6" y="2660.0" text-anchor="middle" transform="rotate(1.3 3673.6 2648.0)">6</text><text x="3717.5" y="2659.0" text-anchor="middle" transform="rotate(-11.0 3717.5 2647.0)">5</text><text x="3759.2" y="2659.0" text-anchor="middle" transform="rotate(2.4 3759.2 2647.0)">0</text><text x="3800.3" y="2660.5" text-anchor="middle" transform="rotate(-3.4 3800.3 2648.5)">8</text><text x="3840.0" y="2658.7" text-anchor="middle" transform="rotate(-7.1 3840.0 2646.7)">3</text><text x="3548.1" y="2701.9" text-anchor="middle" transform="rotate(-2.4 3548.1 2689.9)">7</text><text x="3591.0" y="2702.5" text-anchor="middle" transform="rotate(-11.1 3591.0 2690.5)">0</text><text x="3633.6" y="2701.3" text-anchor="middle" transform="rotate(2.8 3633.6 2689.3)">6</text><text x="3676.4" y="2703.3" text-anchor="middle" transform="rotate(1.6 3676.4 2691.3)">4</text><text x="3717.9" y="2701.2" text-anchor="middle" transform="rotate(0.6 3717.9 2689.2)">0</text><text x="3759.3" y="2703.9" text-anchor="middle" transform="rotate(3.5 3759.3 2691.9)">9</text><text x="3798.7" y="2703.2" text-anchor="middle" transform="rotate(-9.0 3798.7 2691.2)">1</text><text x="3842.5" y="2702.3" text-anchor="middle" transform="rotate(0.7 3842.5 2690.3)">6</text></g>
<rect x="4112" y="2377" width="333" height="333" fill="#000"/>
<g font-family="Liberation Sans" font-style="italic" font-size="35" fill="#eeeeee" stroke="#eeeeee" stroke-width="0.4"><text x="4133.2" y="2412.8" text-anchor="middle" transform="rotate(-9.8 4133.2 2400.8)">9</text><text x="4173.9" y="2412.2" text-anchor="middle" transform="rotate(-9.6 4173.9 2400.2)">0</text><text x="4214.5" y="2409.7" text-anchor="middle" transform="rotate(-2.8 4214.5 2397.7)">4</text><text x="4255.9" y="2412.5" text-anchor="middle" transform="rotate(1.6 4255.9 2400.5)">5</text><text x="4297.9" y="2409.9" text-anchor="middle" transform="rotate(-2.6 4297.9 2397.9)">3</text><text x="4341.6" y="2411.8" text-anchor="middle" transform="rotate(-4.7 4341.6 2399.8)">9</text><text x="4382.5" y="2411.4" text-anchor="middle" transform="rotate(1.8 4382.5 2399.4)">4</text><text x="4425.6" y="2408.9" text-anchor="middle" transform="rotate(-9.4 4425.6 2396.9)">0</text><text x="4133.8" y="2453.1" text-anchor="middle" transform="rotate(-4.1 4133.8 2441.1)">2</text><text x="4173.3" y="2452.6" text-anchor="middle" transform="rotate(-8.5 4173.3 2440.6)">7</text><text x="4215.4" y="2453.5" text-anchor="middle" transform="rotate(-11.6 4215.4 2441.5)">4</text><text x="4255.9" y="2451.3" text-anchor="middle" transform="rotate(5.3 4255.9 2439.3)">5</text><text x="4298.4" y="2452.0" text-anchor="middle" transform="rotate(0.2 4298.4 2440.0)">7</text><text x="4341.8" y="2454.2" text-anchor="middle" transform="rotate(1.6 4341.8 2442.2)">0</text><text x="4382.4" y="2450.9" text-anchor="middle" transform="rotate(5.3 4382.4 2438.9)">6</text><text x="4423.6" y="2451.8" text-anchor="middle" transform="rotate(-0.4 4423.6 2439.8)">5</text><text x="4132.1" y="2495.6" text-anchor="middle" transform="rotate(0.4 4132.1 2483.6)">2</text><text x="4174.1" y="2493.1" text-anchor="middle" transform="rotate(-3.8 4174.1 2481.1)">1</text><text x="4216.6" y="2492.9" text-anchor="middle" transform="rotate(7.5 4216.6 2480.9)">7</text><text x="4257.4" y="2492.7" text-anchor="middle" transform="rotate(-10.8 4257.4 2480.7)">1</text><text x="4298.9" y="2493.5" text-anchor="middle" transform="rotate(-2.1 4298.9 2481.5)">6</text><text x="4341.2" y="2494.5" text-anchor="middle" transform="rotate(-3.1 4341.2 2482.5)">8</text><text x="4383.6" y="2492.9" text-anchor="middle" transform="rotate(-11.4 4383.6 2480.9)">4</text><text x="4425.2" y="2493.1" text-anchor="middle" transform="rotate(-0.7 4425.2 2481.1)">3</text><text x="4133.4" y="2535.5" text-anchor="middle" transform="rotate(-0.2 4133.4 2523.5)">5</text><text x="4175.5" y="2536.6" text-anchor="middle" transform="rotate(3.0 4175.5 2524.6)">9</text><text x="4216.5" y="2535.7" text-anchor="middle" transform="rotate(-3.3 4216.5 2523.7)">9</text><text x="4255.8" y="2535.6" text-anchor="middle" transform="rotate(-4.8 4255.8 2523.6)">5</text><text x="4297.5" y="2536.9" text-anchor="middle" transform="rotate(0.7 4297.5 2524.9)">6</text><text x="4342.1" y="2536.3" text-anchor="middle" transform="rotate(4.0 4342.1 2524.3)">7</text><text x="4382.6" y="2533.8" text-anchor="middle" transform="rotate(-4.1 4382.6 2521.8)">4</text><text x="4423.2" y="2536.7" text-anchor="middle" transform="rotate(-9.3 4423.2 2524.7)">6</text><text x="4134.1" y="2575.5" text-anchor="middle" transform="rotate(-2.9 4134.1 2563.5)">6</text><text x="4173.2" y="2577.3" text-anchor="middle" transform="rotate(0.3 4173.2 2565.3)">9</text><text x="4215.0" y="2576.1" text-anchor="middle" transform="rotate(-5.3 4215.0 2564.1)">6</text><text x="4257.9" y="2576.9" text-anchor="middle" transform="rotate(5.9 4257.9 2564.9)">7</text><text x="4298.0" y="2575.4" text-anchor="middle" transform="rotate(-1.0 4298.0 2563.4)">3</text><text x="4339.0" y="2575.5" text-anchor="middle" transform="rotate(-8.8 4339.0 2563.5)">7</text><text x="4381.0" y="2575.8" text-anchor="middle" transform="rotate(-2.6 4381.0 2563.8)">4</text><text x="4423.7" y="2578.2" text-anchor="middle" transform="rotate(-7.1 4423.7 2566.2)">9</text><text x="4133.3" y="2620.8" text-anchor="middle" transform="rotate(-2.1 4133.3 2608.8)">7</text><text x="4174.1" y="2619.6" text-anchor="middle" transform="rotate(-4.5 4174.1 2607.6)">2</text><text x="4216.9" y="2617.5" text-anchor="middle" transform="rotate(-2.1 4216.9 2605.5)">7</text><text x="4258.3" y="2619.1" text-anchor="middle" transform="rotate(3.3 4258.3 2607.1)">6</text><text x="4299.7" y="2617.8" text-anchor="middle" transform="rotate(2.8 4299.7 2605.8)">8</text><text x="4339.6" y="2617.0" text-anchor="middle" transform="rotate(4.4 4339.6 2605.0)">4</text><text x="4383.8" y="2619.9" text-anchor="middle" transform="rotate(3.6 4383.8 2607.9)">3</text><text x="4422.9" y="2618.0" text-anchor="middle" transform="rotate(-0.9 4422.9 2606.0)">8</text><text x="4132.9" y="2659.8" text-anchor="middle" transform="rotate(3.4 4132.9 2647.8)">4</text><text x="4173.1" y="2661.1" text-anchor="middle" transform="rotate(-3.8 4173.1 2649.1)">3</text><text x="4217.1" y="2661.6" text-anchor="middle" transform="rotate(3.8 4217.1 2649.6)">5</text><text x="4257.2" y="2660.5" text-anchor="middle" transform="rotate(-7.3 4257.2 2648.5)">8</text><text x="4298.9" y="2659.2" text-anchor="middle" transform="rotate(-10.5 4298.9 2647.2)">2</text><text x="4339.2" y="2661.6" text-anchor="middle" transform="rotate(-7.9 4339.2 2649.6)">8</text><text x="4380.9" y="2662.0" text-anchor="middle" transform="rotate(-4.5 4380.9 2650.0)">0</text><text x="4425.6" y="2659.6" text-anchor="middle" transform="rotate(1.5 4425.6 2647.6)">8</text><text x="4132.4" y="2702.5" text-anchor="middle" transform="rotate(-5.9 4132.4 2690.5)">8</text><text x="4176.1" y="2702.6" text-anchor="middle" transform="rotate(-7.8 4176.1 2690.6)">8</text><text x="4216.2" y="2701.3" text-anchor="middle" transform="rotate(5.4 4216.2 2689.3)">4</text><text x="4255.7" y="2702.8" text-anchor="middle" transform="rotate(3.2 4255.7 2690.8)">8</text><text x="4297.8" y="2702.8" text-anchor="middle" transform="rotate(-11.1 4297.8 2690.8)">0</text><text x="4341.1" y="2702.6" text-anchor="middle" transform="rotate(-3.3 4341.1 2690.6)">3</text><text x="4383.3" y="2701.9" text-anchor="middle" transform="rotate(7.6 4383.3 2689.9)">0</text><text x="4424.4" y="2704.1" text-anchor="middle" transform="rotate(6.9 4424.4 2692.1)">8</text></g>
<g transform="translate(140,340) scale(0.258169,0.258193)"><rect x="48" y="298" width="69" height="70" rx="10" fill="#e0942c"/><rect x="152" y="212" width="88" height="86" rx="10" fill="#d42a2a"/><rect x="272" y="260" width="111" height="111" rx="10" fill="#3b4aa0"/><rect x="135" y="372" width="127" height="126" rx="10" fill="#a3cd3b"/><path d="M390,180 Q395,165 430,158 Q520,140 610,158 Q700,180 745,250 Q785,320 785,420 L785,470 Q812,455 830,468 Q838,480 833,510 L805,630 Q795,665 765,665 Q760,720 745,770 Q725,830 660,880 Q600,920 530,920 Q460,915 400,860 Q335,800 315,740 Q305,700 305,665 Q275,665 262,640 Q250,610 250,578 L278,575 L283,490 Q287,478 300,477 L385,476 L388,385 Q390,370 405,369 L480,368 Q495,367 495,352 L495,275 Q495,260 480,258 L405,256 Q390,255 390,240 Z" fill="#231f20"/><rect x="530" y="220" width="65" height="65" rx="8" fill="#fff"/><rect x="628" y="285" width="45" height="45" rx="8" fill="#fff"/><rect x="573" y="368" width="82" height="84" rx="8" fill="#fff"/><rect x="430" y="452" width="123" height="125" rx="8" fill="#fff"/><path d="M1012,210 L1172,210 L1172,272 L1140,272 L1140,518 L1172,518 L1172,582 L1012,582 L1012,518 L1048,518 L1048,272 L1012,272 Z" fill="#1a1816"/><path d="M1525,215 Q1470,203 1415,203 Q1290,203 1245,285 Q1205,335 1205,395 Q1205,500 1275,550 Q1330,590 1415,590 Q1470,590 1525,575 L1525,490 Q1475,515 1430,515 Q1365,515 1330,475 Q1300,440 1300,395 Q1300,340 1335,310 Q1370,278 1430,278 Q1475,278 1525,300 Z" fill="#1a1816"/><path d="M1595,582 L1595,210 L1715,210 L1828,485 L1940,210 L2060,210 L2060,582 L1985,582 L1985,280 L1862,582 L1795,582 L1670,280 L1670,582 Z" fill="#1a1816"/><path d="M2152,210 L2245,210 L2245,518 L2398,518 L2398,582 L2152,582 Z" fill="#1a1816"/><rect x="1008" y="624" width="1410" height="10" fill="#1a1816"/><text x="1015" y="760" font-family="Liberation Sans" font-size="108" fill="#1a1816" textLength="1375" lengthAdjust="spacingAndGlyphs">International Conference</text><text x="1015" y="893" font-family="Liberation Sans" font-size="108" fill="#1a1816" textLength="1180" lengthAdjust="spacingAndGlyphs">On Machine Learning</text></g>
<g transform="translate(860,320) scale(0.222340,0.222372)"><path d="M940,270 C1050,280 1140,360 1165,450 C1190,560 1240,575 1278,577 C1290,640 1330,680 1400,710 C1470,740 1500,770 1518,803 C1460,780 1400,780 1365,795 C1330,750 1280,760 1240,765 C1200,770 1170,760 1148,745 C1190,790 1240,820 1250,893 C1200,850 1130,840 1080,830 C1050,820 1030,800 1025,795 C1060,860 1130,900 1155,1010 C1110,970 1060,950 1000,955 C950,960 920,930 910,895 C880,880 820,900 780,900 C700,900 630,850 615,745 C680,790 770,790 810,765 C740,760 710,720 705,690 C700,650 680,625 620,625 C520,630 490,580 470,530 C430,440 400,420 355,425 C420,395 490,420 520,460 C550,480 580,470 570,430 C560,400 530,390 500,390 C580,370 660,410 720,460 C760,490 800,500 835,490 C780,470 760,440 740,380 C720,340 700,325 665,318 C740,290 820,320 870,360 C900,385 940,395 970,370 C990,330 970,290 940,270 Z" fill="#2b2a2b"/><rect x="881" y="78" width="109" height="110" fill="#2b2a2b"/><rect x="881" y="570" width="109" height="110" fill="#fff"/><rect x="881" y="1062" width="109" height="108" fill="#2b2a2b"/><text x="98" y="1395" font-family="Liberation Sans" font-weight="bold" font-size="158" fill="#2b2a2b" textLength="1674" lengthAdjust="spacingAndGlyphs">UNIVERSITY OF HELSINKI</text></g>
<g transform="translate(3460,290) scale(0.255973,0.256065)"><text x="128" y="565" font-family="Liberation Sans" font-size="200" fill="#58535a" stroke="#58535a" stroke-width="3" textLength="552" lengthAdjust="spacingAndGlyphs">ENSAE</text><path d="M487.5,179.6 L464.0,138.9 M529.1,159.0 L511.2,115.6 M573.1,144.1 L561.0,98.7 M618.7,135.0 L612.5,88.4 M665.0,132.0 L665.0,85.0 M711.3,135.0 L717.5,88.4 M756.9,144.1 L769.0,98.7 M800.9,159.0 L818.8,115.6 M842.5,179.6 L866.0,138.9 M881.1,205.4 L909.7,168.1 M916.0,236.0 L949.3,202.7 M946.6,270.9 L983.9,242.3 M972.4,309.5 L1013.1,286.0 M993.0,351.1 L1036.4,333.2 M1007.9,395.1 L1053.3,383.0 M1017.0,440.7 L1063.6,434.5 M1020.0,487.0 L1067.0,487.0 M1017.0,533.3 L1063.6,539.5 M1007.9,578.9 L1053.3,591.0 M993.0,622.9 L1036.4,640.8 M972.4,664.5 L1013.1,688.0 M946.6,703.1 L983.9,731.7 M916.0,738.0 L949.3,771.3 M881.1,768.6 L909.7,805.9 M842.5,794.4 L866.0,835.1 M800.9,815.0 L818.8,858.4 M756.9,829.9 L769.0,875.3 M711.3,839.0 L717.5,885.6 M665.0,842.0 L665.0,889.0 M575.4,240.8 L559.3,196.6 M616.8,229.5 L608.2,183.3 M659.5,225.1 L658.5,178.1 M702.4,227.7 L709.1,181.2 M744.2,237.3 L758.4,192.5 M783.9,253.6 L805.3,211.7 M820.5,276.1 L848.4,238.3 M852.8,304.3 L886.5,271.6 M880.1,337.5 L918.7,310.6 M901.7,374.6 L944.1,354.5 M916.9,414.8 L962.0,401.8 M925.3,456.9 L972.0,451.5 M926.7,499.8 L973.6,502.1 M921.1,542.4 L967.0,552.3 M908.6,583.4 L952.3,600.8 M889.6,621.9 L929.9,646.1 M864.5,656.8 L900.3,687.3 M834.1,687.1 L864.4,723.0 M799.2,712.0 L823.2,752.4 M760.6,730.9 L777.7,774.7 M719.5,743.3 L729.2,789.2 M685.9,338.5 L692.6,290.9 M728.4,351.1 L748.7,307.6 M765.4,375.5 L797.5,339.9 M793.6,409.7 L834.7,385.0 M810.5,450.7 L857.1,439.1 M814.8,494.9 L862.7,497.4 M806.0,538.3 L851.1,554.7 " stroke="#a3202f" stroke-width="16" fill="none"/><rect x="128" y="1081" width="940" height="9" fill="#6a666b"/><circle cx="268" cy="1300" r="100" fill="#58535a"/><path d="M180,1240 L350,1360 M210,1390 L330,1210" stroke="#fff" stroke-width="14" fill="none"/><circle cx="268" cy="1300" r="126" fill="none" stroke="#6d686e" stroke-width="16" stroke-dasharray="9 8" opacity="0.8"/><circle cx="160" cy="1222" r="12" fill="#58535a"/><text x="465" y="1340" font-family="Liberation Sans" font-weight="bold" font-size="118" fill="#58535a" textLength="605" lengthAdjust="spacing">IP PARIS</text></g>
<g transform="translate(4044.7,181.9) scale(15.207)"><path d="M0,0h7v1h-7zM10,0h1v1h-1zM12,0h2v1h-2zM16,0h1v1h-1zM19,0h2v1h-2zM22,0h7v1h-7zM0,1h1v1h-1zM6,1h1v1h-1zM9,1h3v1h-3zM13,1h3v1h-3zM20,1h1v1h-1zM22,1h1v1h-1zM28,1h1v1h-1zM0,2h1v1h-1zM2,2h3v1h-3zM6,2h1v1h-1zM11,2h1v1h-1zM13,2h1v1h-1zM16,2h5v1h-5zM22,2h1v1h-1zM24,2h3v1h-3zM28,2h1v1h-1zM0,3h1v1h-1zM2,3h3v1h-3zM6,3h1v1h-1zM10,3h6v1h-6zM22,3h1v1h-1zM24,3h3v1h-3zM28,3h1v1h-1zM0,4h1v1h-1zM2,4h3v1h-3zM6,4h1v1h-1zM9,4h1v1h-1zM11,4h1v1h-1zM13,4h2v1h-2zM16,4h1v1h-1zM20,4h1v1h-1zM22,4h1v1h-1zM24,4h3v1h-3zM28,4h1v1h-1zM0,5h1v1h-1zM6,5h1v1h-1zM8,5h2v1h-2zM11,5h1v1h-1zM13,5h2v1h-2zM18,5h2v1h-2zM22,5h1v1h-1zM28,5h1v1h-1zM0,6h7v1h-7zM8,6h1v1h-1zM10,6h1v1h-1zM12,6h1v1h-1zM14,6h1v1h-1zM16,6h1v1h-1zM18,6h1v1h-1zM20,6h1v1h-1zM22,6h7v1h-7zM9,7h1v1h-1zM14,7h1v1h-1zM17,7h3v1h-3zM0,8h1v1h-1zM3,8h1v1h-1zM5,8h2v1h-2zM8,8h2v1h-2zM12,8h1v1h-1zM15,8h1v1h-1zM18,8h1v1h-1zM20,8h2v1h-2zM23,8h1v1h-1zM2,9h4v1h-4zM7,9h3v1h-3zM12,9h1v1h-1zM14,9h2v1h-2zM17,9h2v1h-2zM20,9h1v1h-1zM22,9h1v1h-1zM25,9h1v1h-1zM28,9h1v1h-1zM0,10h1v1h-1zM4,10h6v1h-6zM11,10h1v1h-1zM16,10h1v1h-1zM18,10h4v1h-4zM23,10h5v1h-5zM1,11h2v1h-2zM4,11h2v1h-2zM8,11h1v1h-1zM12,11h1v1h-1zM14,11h2v1h-2zM20,11h3v1h-3zM24,11h1v1h-1zM26,11h2v1h-2zM3,12h1v1h-1zM6,12h3v1h-3zM11,12h1v1h-1zM16,12h3v1h-3zM20,12h1v1h-1zM22,12h1v1h-1zM25,12h1v1h-1zM27,12h2v1h-2zM1,13h1v1h-1zM3,13h2v1h-2zM7,13h1v1h-1zM10,13h2v1h-2zM15,13h1v1h-1zM17,13h5v1h-5zM0,14h1v1h-1zM3,14h7v1h-7zM11,14h1v1h-1zM15,14h2v1h-2zM18,14h1v1h-1zM20,14h2v1h-2zM23,14h6v1h-6zM0,15h2v1h-2zM3,15h1v1h-1zM5,15h1v1h-1zM8,15h1v1h-1zM12,15h3v1h-3zM16,15h2v1h-2zM19,15h1v1h-1zM21,15h5v1h-5zM27,15h1v1h-1zM0,16h1v1h-1zM2,16h3v1h-3zM6,16h1v1h-1zM9,16h2v1h-2zM12,16h4v1h-4zM17,16h5v1h-5zM23,16h1v1h-1zM27,16h1v1h-1zM8,17h1v1h-1zM10,17h2v1h-2zM15,17h1v1h-1zM17,17h1v1h-1zM21,17h3v1h-3zM25,17h1v1h-1zM28,17h1v1h-1zM0,18h1v1h-1zM2,18h2v1h-2zM6,18h1v1h-1zM8,18h2v1h-2zM13,18h1v1h-1zM16,18h2v1h-2zM21,18h1v1h-1zM27,18h2v1h-2zM2,19h4v1h-4zM7,19h1v1h-1zM9,19h1v1h-1zM11,19h3v1h-3zM15,19h3v1h-3zM19,19h2v1h-2zM23,19h1v1h-1zM27,19h2v1h-2zM0,20h1v1h-1zM4,20h4v1h-4zM9,20h4v1h-4zM14,20h1v1h-1zM18,20h7v1h-7zM26,20h1v1h-1zM8,21h1v1h-1zM13,21h1v1h-1zM17,21h4v1h-4zM24,21h1v1h-1zM26,21h3v1h-3zM0,22h7v1h-7zM10,22h1v1h-1zM13,22h2v1h-2zM18,22h1v1h-1zM20,22h1v1h-1zM22,22h1v1h-1zM24,22h1v1h-1zM27,22h1v1h-1zM0,23h1v1h-1zM6,23h1v1h-1zM8,23h1v1h-1zM11,23h1v1h-1zM13,23h1v1h-1zM15,23h1v1h-1zM19,23h2v1h-2zM24,23h4v1h-4zM0,24h1v1h-1zM2,24h3v1h-3zM6,24h1v1h-1zM9,24h2v1h-2zM14,24h1v1h-1zM17,24h2v1h-2zM20,24h5v1h-5zM28,24h1v1h-1zM0,25h1v1h-1zM2,25h3v1h-3zM6,25h1v1h-1zM8,25h3v1h-3zM14,25h1v1h-1zM16,25h5v1h-5zM22,25h1v1h-1zM24,25h4v1h-4zM0,26h1v1h-1zM2,26h3v1h-3zM6,26h1v1h-1zM9,26h1v1h-1zM11,26h1v1h-1zM13,26h1v1h-1zM18,26h2v1h-2zM21,26h1v1h-1zM24,26h3v1h-3zM28,26h1v1h-1zM0,27h1v1h-1zM6,27h1v1h-1zM9,27h3v1h-3zM13,27h2v1h-2zM17,27h1v1h-1zM19,27h3v1h-3zM27,27h1v1h-1zM0,28h7v1h-7zM8,28h4v1h-4zM16,28h3v1h-3zM20,28h1v1h-1zM22,28h1v1h-1zM24,28h2v1h-2zM27,28h1v1h-1z" fill="#000"/></g>
</svg></body></html>
